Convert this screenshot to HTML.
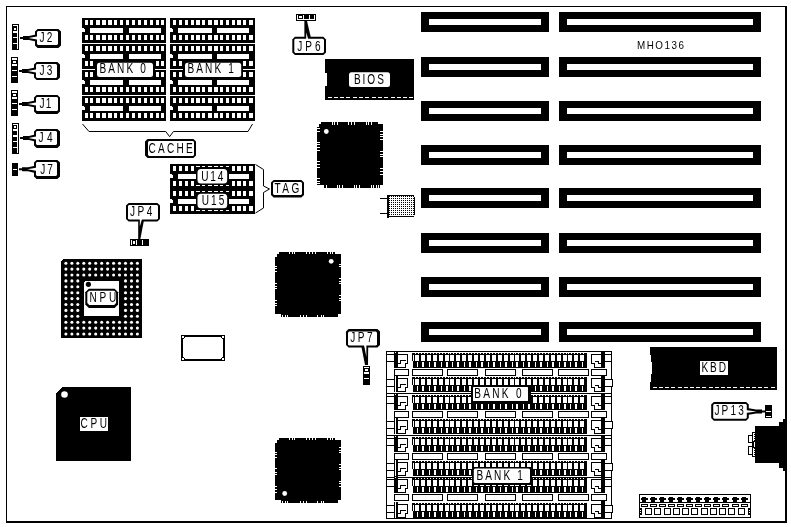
<!DOCTYPE html>
<html><head><meta charset="utf-8"><title>MHO136</title>
<style>html,body{margin:0;padding:0;background:#fff;}body{width:791px;height:527px;overflow:hidden;font-family:"Liberation Sans",sans-serif;}</style>
</head><body>
<svg width="791" height="527" viewBox="0 0 791 527" style="display:block">
<defs><pattern id="dots" x="0" y="0" width="2" height="2" patternUnits="userSpaceOnUse"><rect x="0" y="0" width="2" height="2" fill="#fff"/><rect x="1" y="0" width="1" height="1" fill="#000"/></pattern></defs>
<rect width="791" height="527" fill="#fff"/>
<g shape-rendering="crispEdges">
<rect x="6" y="6" width="781" height="1" fill="#000"/>
<rect x="6" y="6" width="1" height="517" fill="#000"/>
<rect x="785" y="6" width="2" height="517" fill="#000"/>
<rect x="6" y="521" width="781" height="2" fill="#000"/>
<rect x="12" y="24" width="7" height="26" fill="#000"/>
<rect x="17" y="25" width="1" height="24" fill="#fff"/>
<rect x="13" y="25" width="4" height="1" fill="#fff"/>
<rect x="13" y="31" width="4" height="2" fill="#fff"/>
<rect x="13" y="37" width="4" height="1" fill="#fff"/>
<rect x="13" y="43" width="4" height="1" fill="#fff"/>
<rect x="14" y="28" width="2" height="2" fill="#fff"/>
<rect x="11" y="57" width="7" height="26" fill="#000"/>
<rect x="12" y="58" width="5" height="2" fill="#fff"/>
<rect x="13" y="61" width="3" height="2" fill="#fff"/>
<rect x="12" y="64" width="5" height="2" fill="#fff"/>
<rect x="12" y="70" width="5" height="1" fill="#fff"/>
<rect x="12" y="76" width="5" height="1" fill="#fff"/>
<rect x="11" y="90" width="7" height="26" fill="#000"/>
<rect x="12" y="91" width="5" height="2" fill="#fff"/>
<rect x="13" y="94" width="3" height="2" fill="#fff"/>
<rect x="12" y="97" width="5" height="2" fill="#fff"/>
<rect x="12" y="103" width="5" height="1" fill="#fff"/>
<rect x="12" y="109" width="5" height="1" fill="#fff"/>
<rect x="12" y="123" width="7" height="31" fill="#000"/>
<rect x="17" y="124" width="1" height="29" fill="#fff"/>
<rect x="13" y="124" width="4" height="1" fill="#fff"/>
<rect x="13" y="129" width="4" height="2" fill="#fff"/>
<rect x="13" y="135" width="4" height="2" fill="#fff"/>
<rect x="13" y="141" width="4" height="1" fill="#fff"/>
<rect x="13" y="147" width="4" height="1" fill="#fff"/>
<rect x="14" y="126" width="2" height="2" fill="#fff"/>
<rect x="12" y="163" width="6" height="13" fill="#000"/>
<rect x="13" y="169" width="4" height="1" fill="#fff"/>
<rect x="82" y="18" width="84" height="25" fill="#000"/>
<rect x="85" y="20" width="3" height="5" fill="#fff"/>
<rect x="85" y="35" width="3" height="5" fill="#fff"/>
<rect x="90" y="20" width="3" height="5" fill="#fff"/>
<rect x="90" y="35" width="3" height="5" fill="#fff"/>
<rect x="96" y="20" width="4" height="5" fill="#fff"/>
<rect x="96" y="35" width="4" height="5" fill="#fff"/>
<rect x="102" y="20" width="4" height="5" fill="#fff"/>
<rect x="102" y="35" width="4" height="5" fill="#fff"/>
<rect x="108" y="20" width="4" height="5" fill="#fff"/>
<rect x="108" y="35" width="4" height="5" fill="#fff"/>
<rect x="114" y="20" width="3" height="5" fill="#fff"/>
<rect x="114" y="35" width="3" height="5" fill="#fff"/>
<rect x="120" y="20" width="3" height="5" fill="#fff"/>
<rect x="120" y="35" width="3" height="5" fill="#fff"/>
<rect x="126" y="20" width="3" height="5" fill="#fff"/>
<rect x="126" y="35" width="3" height="5" fill="#fff"/>
<rect x="132" y="20" width="3" height="5" fill="#fff"/>
<rect x="132" y="35" width="3" height="5" fill="#fff"/>
<rect x="138" y="20" width="3" height="5" fill="#fff"/>
<rect x="138" y="35" width="3" height="5" fill="#fff"/>
<rect x="144" y="20" width="3" height="5" fill="#fff"/>
<rect x="144" y="35" width="3" height="5" fill="#fff"/>
<rect x="150" y="20" width="3" height="5" fill="#fff"/>
<rect x="150" y="35" width="3" height="5" fill="#fff"/>
<rect x="156" y="20" width="3" height="5" fill="#fff"/>
<rect x="156" y="35" width="3" height="5" fill="#fff"/>
<rect x="161" y="20" width="3" height="5" fill="#fff"/>
<rect x="161" y="35" width="3" height="5" fill="#fff"/>
<rect x="90" y="28" width="33" height="5" fill="#fff"/>
<rect x="129" y="28" width="32" height="5" fill="#fff"/>
<rect x="82" y="28" width="3" height="4" fill="#fff"/>
<rect x="84" y="28" width="1" height="1" fill="#000"/>
<rect x="170" y="18" width="85" height="25" fill="#000"/>
<rect x="173" y="20" width="3" height="5" fill="#fff"/>
<rect x="173" y="35" width="3" height="5" fill="#fff"/>
<rect x="179" y="20" width="3" height="5" fill="#fff"/>
<rect x="179" y="35" width="3" height="5" fill="#fff"/>
<rect x="185" y="20" width="3" height="5" fill="#fff"/>
<rect x="185" y="35" width="3" height="5" fill="#fff"/>
<rect x="191" y="20" width="3" height="5" fill="#fff"/>
<rect x="191" y="35" width="3" height="5" fill="#fff"/>
<rect x="196" y="20" width="4" height="5" fill="#fff"/>
<rect x="196" y="35" width="4" height="5" fill="#fff"/>
<rect x="202" y="20" width="3" height="5" fill="#fff"/>
<rect x="202" y="35" width="3" height="5" fill="#fff"/>
<rect x="208" y="20" width="4" height="5" fill="#fff"/>
<rect x="208" y="35" width="4" height="5" fill="#fff"/>
<rect x="214" y="20" width="4" height="5" fill="#fff"/>
<rect x="214" y="35" width="4" height="5" fill="#fff"/>
<rect x="220" y="20" width="3" height="5" fill="#fff"/>
<rect x="220" y="35" width="3" height="5" fill="#fff"/>
<rect x="226" y="20" width="3" height="5" fill="#fff"/>
<rect x="226" y="35" width="3" height="5" fill="#fff"/>
<rect x="232" y="20" width="3" height="5" fill="#fff"/>
<rect x="232" y="35" width="3" height="5" fill="#fff"/>
<rect x="237" y="20" width="4" height="5" fill="#fff"/>
<rect x="237" y="35" width="4" height="5" fill="#fff"/>
<rect x="243" y="20" width="3" height="5" fill="#fff"/>
<rect x="243" y="35" width="3" height="5" fill="#fff"/>
<rect x="249" y="20" width="4" height="5" fill="#fff"/>
<rect x="249" y="35" width="4" height="5" fill="#fff"/>
<rect x="178" y="28" width="34" height="5" fill="#fff"/>
<rect x="217" y="28" width="32" height="5" fill="#fff"/>
<rect x="170" y="28" width="3" height="4" fill="#fff"/>
<rect x="172" y="28" width="1" height="1" fill="#000"/>
<rect x="82" y="44" width="84" height="25" fill="#000"/>
<rect x="85" y="46" width="3" height="5" fill="#fff"/>
<rect x="85" y="61" width="3" height="5" fill="#fff"/>
<rect x="90" y="46" width="3" height="5" fill="#fff"/>
<rect x="90" y="61" width="3" height="5" fill="#fff"/>
<rect x="96" y="46" width="4" height="5" fill="#fff"/>
<rect x="96" y="61" width="4" height="5" fill="#fff"/>
<rect x="102" y="46" width="4" height="5" fill="#fff"/>
<rect x="102" y="61" width="4" height="5" fill="#fff"/>
<rect x="108" y="46" width="4" height="5" fill="#fff"/>
<rect x="108" y="61" width="4" height="5" fill="#fff"/>
<rect x="114" y="46" width="3" height="5" fill="#fff"/>
<rect x="114" y="61" width="3" height="5" fill="#fff"/>
<rect x="120" y="46" width="3" height="5" fill="#fff"/>
<rect x="120" y="61" width="3" height="5" fill="#fff"/>
<rect x="126" y="46" width="3" height="5" fill="#fff"/>
<rect x="126" y="61" width="3" height="5" fill="#fff"/>
<rect x="132" y="46" width="3" height="5" fill="#fff"/>
<rect x="132" y="61" width="3" height="5" fill="#fff"/>
<rect x="138" y="46" width="3" height="5" fill="#fff"/>
<rect x="138" y="61" width="3" height="5" fill="#fff"/>
<rect x="144" y="46" width="3" height="5" fill="#fff"/>
<rect x="144" y="61" width="3" height="5" fill="#fff"/>
<rect x="150" y="46" width="3" height="5" fill="#fff"/>
<rect x="150" y="61" width="3" height="5" fill="#fff"/>
<rect x="156" y="46" width="3" height="5" fill="#fff"/>
<rect x="156" y="61" width="3" height="5" fill="#fff"/>
<rect x="161" y="46" width="3" height="5" fill="#fff"/>
<rect x="161" y="61" width="3" height="5" fill="#fff"/>
<rect x="90" y="54" width="33" height="5" fill="#fff"/>
<rect x="129" y="54" width="32" height="5" fill="#fff"/>
<rect x="82" y="54" width="3" height="4" fill="#fff"/>
<rect x="84" y="54" width="1" height="1" fill="#000"/>
<rect x="170" y="44" width="85" height="25" fill="#000"/>
<rect x="173" y="46" width="3" height="5" fill="#fff"/>
<rect x="173" y="61" width="3" height="5" fill="#fff"/>
<rect x="179" y="46" width="3" height="5" fill="#fff"/>
<rect x="179" y="61" width="3" height="5" fill="#fff"/>
<rect x="185" y="46" width="3" height="5" fill="#fff"/>
<rect x="185" y="61" width="3" height="5" fill="#fff"/>
<rect x="191" y="46" width="3" height="5" fill="#fff"/>
<rect x="191" y="61" width="3" height="5" fill="#fff"/>
<rect x="196" y="46" width="4" height="5" fill="#fff"/>
<rect x="196" y="61" width="4" height="5" fill="#fff"/>
<rect x="202" y="46" width="3" height="5" fill="#fff"/>
<rect x="202" y="61" width="3" height="5" fill="#fff"/>
<rect x="208" y="46" width="4" height="5" fill="#fff"/>
<rect x="208" y="61" width="4" height="5" fill="#fff"/>
<rect x="214" y="46" width="4" height="5" fill="#fff"/>
<rect x="214" y="61" width="4" height="5" fill="#fff"/>
<rect x="220" y="46" width="3" height="5" fill="#fff"/>
<rect x="220" y="61" width="3" height="5" fill="#fff"/>
<rect x="226" y="46" width="3" height="5" fill="#fff"/>
<rect x="226" y="61" width="3" height="5" fill="#fff"/>
<rect x="232" y="46" width="3" height="5" fill="#fff"/>
<rect x="232" y="61" width="3" height="5" fill="#fff"/>
<rect x="237" y="46" width="4" height="5" fill="#fff"/>
<rect x="237" y="61" width="4" height="5" fill="#fff"/>
<rect x="243" y="46" width="3" height="5" fill="#fff"/>
<rect x="243" y="61" width="3" height="5" fill="#fff"/>
<rect x="249" y="46" width="4" height="5" fill="#fff"/>
<rect x="249" y="61" width="4" height="5" fill="#fff"/>
<rect x="178" y="54" width="34" height="5" fill="#fff"/>
<rect x="217" y="54" width="32" height="5" fill="#fff"/>
<rect x="170" y="54" width="3" height="4" fill="#fff"/>
<rect x="172" y="54" width="1" height="1" fill="#000"/>
<rect x="82" y="70" width="84" height="25" fill="#000"/>
<rect x="85" y="72" width="3" height="5" fill="#fff"/>
<rect x="85" y="87" width="3" height="5" fill="#fff"/>
<rect x="90" y="72" width="3" height="5" fill="#fff"/>
<rect x="90" y="87" width="3" height="5" fill="#fff"/>
<rect x="96" y="72" width="4" height="5" fill="#fff"/>
<rect x="96" y="87" width="4" height="5" fill="#fff"/>
<rect x="102" y="72" width="4" height="5" fill="#fff"/>
<rect x="102" y="87" width="4" height="5" fill="#fff"/>
<rect x="108" y="72" width="4" height="5" fill="#fff"/>
<rect x="108" y="87" width="4" height="5" fill="#fff"/>
<rect x="114" y="72" width="3" height="5" fill="#fff"/>
<rect x="114" y="87" width="3" height="5" fill="#fff"/>
<rect x="120" y="72" width="3" height="5" fill="#fff"/>
<rect x="120" y="87" width="3" height="5" fill="#fff"/>
<rect x="126" y="72" width="3" height="5" fill="#fff"/>
<rect x="126" y="87" width="3" height="5" fill="#fff"/>
<rect x="132" y="72" width="3" height="5" fill="#fff"/>
<rect x="132" y="87" width="3" height="5" fill="#fff"/>
<rect x="138" y="72" width="3" height="5" fill="#fff"/>
<rect x="138" y="87" width="3" height="5" fill="#fff"/>
<rect x="144" y="72" width="3" height="5" fill="#fff"/>
<rect x="144" y="87" width="3" height="5" fill="#fff"/>
<rect x="150" y="72" width="3" height="5" fill="#fff"/>
<rect x="150" y="87" width="3" height="5" fill="#fff"/>
<rect x="156" y="72" width="3" height="5" fill="#fff"/>
<rect x="156" y="87" width="3" height="5" fill="#fff"/>
<rect x="161" y="72" width="3" height="5" fill="#fff"/>
<rect x="161" y="87" width="3" height="5" fill="#fff"/>
<rect x="90" y="80" width="33" height="5" fill="#fff"/>
<rect x="129" y="80" width="32" height="5" fill="#fff"/>
<rect x="82" y="80" width="3" height="4" fill="#fff"/>
<rect x="84" y="80" width="1" height="1" fill="#000"/>
<rect x="170" y="70" width="85" height="25" fill="#000"/>
<rect x="173" y="72" width="3" height="5" fill="#fff"/>
<rect x="173" y="87" width="3" height="5" fill="#fff"/>
<rect x="179" y="72" width="3" height="5" fill="#fff"/>
<rect x="179" y="87" width="3" height="5" fill="#fff"/>
<rect x="185" y="72" width="3" height="5" fill="#fff"/>
<rect x="185" y="87" width="3" height="5" fill="#fff"/>
<rect x="191" y="72" width="3" height="5" fill="#fff"/>
<rect x="191" y="87" width="3" height="5" fill="#fff"/>
<rect x="196" y="72" width="4" height="5" fill="#fff"/>
<rect x="196" y="87" width="4" height="5" fill="#fff"/>
<rect x="202" y="72" width="3" height="5" fill="#fff"/>
<rect x="202" y="87" width="3" height="5" fill="#fff"/>
<rect x="208" y="72" width="4" height="5" fill="#fff"/>
<rect x="208" y="87" width="4" height="5" fill="#fff"/>
<rect x="214" y="72" width="4" height="5" fill="#fff"/>
<rect x="214" y="87" width="4" height="5" fill="#fff"/>
<rect x="220" y="72" width="3" height="5" fill="#fff"/>
<rect x="220" y="87" width="3" height="5" fill="#fff"/>
<rect x="226" y="72" width="3" height="5" fill="#fff"/>
<rect x="226" y="87" width="3" height="5" fill="#fff"/>
<rect x="232" y="72" width="3" height="5" fill="#fff"/>
<rect x="232" y="87" width="3" height="5" fill="#fff"/>
<rect x="237" y="72" width="4" height="5" fill="#fff"/>
<rect x="237" y="87" width="4" height="5" fill="#fff"/>
<rect x="243" y="72" width="3" height="5" fill="#fff"/>
<rect x="243" y="87" width="3" height="5" fill="#fff"/>
<rect x="249" y="72" width="4" height="5" fill="#fff"/>
<rect x="249" y="87" width="4" height="5" fill="#fff"/>
<rect x="178" y="80" width="34" height="5" fill="#fff"/>
<rect x="217" y="80" width="32" height="5" fill="#fff"/>
<rect x="170" y="80" width="3" height="4" fill="#fff"/>
<rect x="172" y="80" width="1" height="1" fill="#000"/>
<rect x="82" y="96" width="84" height="25" fill="#000"/>
<rect x="85" y="98" width="3" height="5" fill="#fff"/>
<rect x="85" y="113" width="3" height="5" fill="#fff"/>
<rect x="90" y="98" width="3" height="5" fill="#fff"/>
<rect x="90" y="113" width="3" height="5" fill="#fff"/>
<rect x="96" y="98" width="4" height="5" fill="#fff"/>
<rect x="96" y="113" width="4" height="5" fill="#fff"/>
<rect x="102" y="98" width="4" height="5" fill="#fff"/>
<rect x="102" y="113" width="4" height="5" fill="#fff"/>
<rect x="108" y="98" width="4" height="5" fill="#fff"/>
<rect x="108" y="113" width="4" height="5" fill="#fff"/>
<rect x="114" y="98" width="3" height="5" fill="#fff"/>
<rect x="114" y="113" width="3" height="5" fill="#fff"/>
<rect x="120" y="98" width="3" height="5" fill="#fff"/>
<rect x="120" y="113" width="3" height="5" fill="#fff"/>
<rect x="126" y="98" width="3" height="5" fill="#fff"/>
<rect x="126" y="113" width="3" height="5" fill="#fff"/>
<rect x="132" y="98" width="3" height="5" fill="#fff"/>
<rect x="132" y="113" width="3" height="5" fill="#fff"/>
<rect x="138" y="98" width="3" height="5" fill="#fff"/>
<rect x="138" y="113" width="3" height="5" fill="#fff"/>
<rect x="144" y="98" width="3" height="5" fill="#fff"/>
<rect x="144" y="113" width="3" height="5" fill="#fff"/>
<rect x="150" y="98" width="3" height="5" fill="#fff"/>
<rect x="150" y="113" width="3" height="5" fill="#fff"/>
<rect x="156" y="98" width="3" height="5" fill="#fff"/>
<rect x="156" y="113" width="3" height="5" fill="#fff"/>
<rect x="161" y="98" width="3" height="5" fill="#fff"/>
<rect x="161" y="113" width="3" height="5" fill="#fff"/>
<rect x="90" y="106" width="33" height="5" fill="#fff"/>
<rect x="129" y="106" width="32" height="5" fill="#fff"/>
<rect x="82" y="106" width="3" height="4" fill="#fff"/>
<rect x="84" y="106" width="1" height="1" fill="#000"/>
<rect x="170" y="96" width="85" height="25" fill="#000"/>
<rect x="173" y="98" width="3" height="5" fill="#fff"/>
<rect x="173" y="113" width="3" height="5" fill="#fff"/>
<rect x="179" y="98" width="3" height="5" fill="#fff"/>
<rect x="179" y="113" width="3" height="5" fill="#fff"/>
<rect x="185" y="98" width="3" height="5" fill="#fff"/>
<rect x="185" y="113" width="3" height="5" fill="#fff"/>
<rect x="191" y="98" width="3" height="5" fill="#fff"/>
<rect x="191" y="113" width="3" height="5" fill="#fff"/>
<rect x="196" y="98" width="4" height="5" fill="#fff"/>
<rect x="196" y="113" width="4" height="5" fill="#fff"/>
<rect x="202" y="98" width="3" height="5" fill="#fff"/>
<rect x="202" y="113" width="3" height="5" fill="#fff"/>
<rect x="208" y="98" width="4" height="5" fill="#fff"/>
<rect x="208" y="113" width="4" height="5" fill="#fff"/>
<rect x="214" y="98" width="4" height="5" fill="#fff"/>
<rect x="214" y="113" width="4" height="5" fill="#fff"/>
<rect x="220" y="98" width="3" height="5" fill="#fff"/>
<rect x="220" y="113" width="3" height="5" fill="#fff"/>
<rect x="226" y="98" width="3" height="5" fill="#fff"/>
<rect x="226" y="113" width="3" height="5" fill="#fff"/>
<rect x="232" y="98" width="3" height="5" fill="#fff"/>
<rect x="232" y="113" width="3" height="5" fill="#fff"/>
<rect x="237" y="98" width="4" height="5" fill="#fff"/>
<rect x="237" y="113" width="4" height="5" fill="#fff"/>
<rect x="243" y="98" width="3" height="5" fill="#fff"/>
<rect x="243" y="113" width="3" height="5" fill="#fff"/>
<rect x="249" y="98" width="4" height="5" fill="#fff"/>
<rect x="249" y="113" width="4" height="5" fill="#fff"/>
<rect x="178" y="106" width="34" height="5" fill="#fff"/>
<rect x="217" y="106" width="32" height="5" fill="#fff"/>
<rect x="170" y="106" width="3" height="4" fill="#fff"/>
<rect x="172" y="106" width="1" height="1" fill="#000"/>
<rect x="95" y="61" width="60" height="18" fill="#000"/>
<rect x="182.5" y="61" width="60.7" height="18" fill="#000"/>
<rect x="170" y="164" width="85" height="25" fill="#000"/>
<rect x="173" y="166" width="3" height="5" fill="#fff"/>
<rect x="173" y="181" width="3" height="5" fill="#fff"/>
<rect x="179" y="166" width="3" height="5" fill="#fff"/>
<rect x="179" y="181" width="3" height="5" fill="#fff"/>
<rect x="185" y="166" width="3" height="5" fill="#fff"/>
<rect x="185" y="181" width="3" height="5" fill="#fff"/>
<rect x="191" y="166" width="3" height="5" fill="#fff"/>
<rect x="191" y="181" width="3" height="5" fill="#fff"/>
<rect x="196" y="166" width="4" height="5" fill="#fff"/>
<rect x="196" y="181" width="4" height="5" fill="#fff"/>
<rect x="202" y="166" width="3" height="5" fill="#fff"/>
<rect x="202" y="181" width="3" height="5" fill="#fff"/>
<rect x="208" y="166" width="4" height="5" fill="#fff"/>
<rect x="208" y="181" width="4" height="5" fill="#fff"/>
<rect x="214" y="166" width="4" height="5" fill="#fff"/>
<rect x="214" y="181" width="4" height="5" fill="#fff"/>
<rect x="220" y="166" width="3" height="5" fill="#fff"/>
<rect x="220" y="181" width="3" height="5" fill="#fff"/>
<rect x="226" y="166" width="3" height="5" fill="#fff"/>
<rect x="226" y="181" width="3" height="5" fill="#fff"/>
<rect x="232" y="166" width="3" height="5" fill="#fff"/>
<rect x="232" y="181" width="3" height="5" fill="#fff"/>
<rect x="237" y="166" width="4" height="5" fill="#fff"/>
<rect x="237" y="181" width="4" height="5" fill="#fff"/>
<rect x="243" y="166" width="3" height="5" fill="#fff"/>
<rect x="243" y="181" width="3" height="5" fill="#fff"/>
<rect x="249" y="166" width="4" height="5" fill="#fff"/>
<rect x="249" y="181" width="4" height="5" fill="#fff"/>
<rect x="178" y="174" width="71" height="5" fill="#fff"/>
<rect x="170" y="174" width="3" height="4" fill="#fff"/>
<rect x="172" y="174" width="1" height="1" fill="#000"/>
<rect x="170" y="189" width="85" height="25" fill="#000"/>
<rect x="173" y="191" width="3" height="5" fill="#fff"/>
<rect x="173" y="206" width="3" height="5" fill="#fff"/>
<rect x="179" y="191" width="3" height="5" fill="#fff"/>
<rect x="179" y="206" width="3" height="5" fill="#fff"/>
<rect x="185" y="191" width="3" height="5" fill="#fff"/>
<rect x="185" y="206" width="3" height="5" fill="#fff"/>
<rect x="191" y="191" width="3" height="5" fill="#fff"/>
<rect x="191" y="206" width="3" height="5" fill="#fff"/>
<rect x="196" y="191" width="4" height="5" fill="#fff"/>
<rect x="196" y="206" width="4" height="5" fill="#fff"/>
<rect x="202" y="191" width="3" height="5" fill="#fff"/>
<rect x="202" y="206" width="3" height="5" fill="#fff"/>
<rect x="208" y="191" width="4" height="5" fill="#fff"/>
<rect x="208" y="206" width="4" height="5" fill="#fff"/>
<rect x="214" y="191" width="4" height="5" fill="#fff"/>
<rect x="214" y="206" width="4" height="5" fill="#fff"/>
<rect x="220" y="191" width="3" height="5" fill="#fff"/>
<rect x="220" y="206" width="3" height="5" fill="#fff"/>
<rect x="226" y="191" width="3" height="5" fill="#fff"/>
<rect x="226" y="206" width="3" height="5" fill="#fff"/>
<rect x="232" y="191" width="3" height="5" fill="#fff"/>
<rect x="232" y="206" width="3" height="5" fill="#fff"/>
<rect x="237" y="191" width="4" height="5" fill="#fff"/>
<rect x="237" y="206" width="4" height="5" fill="#fff"/>
<rect x="243" y="191" width="3" height="5" fill="#fff"/>
<rect x="243" y="206" width="3" height="5" fill="#fff"/>
<rect x="249" y="191" width="4" height="5" fill="#fff"/>
<rect x="249" y="206" width="4" height="5" fill="#fff"/>
<rect x="178" y="199" width="71" height="5" fill="#fff"/>
<rect x="170" y="199" width="3" height="4" fill="#fff"/>
<rect x="172" y="199" width="1" height="1" fill="#000"/>
<rect x="196" y="167" width="33" height="18" fill="#000"/>
<rect x="196" y="192" width="33" height="18" fill="#000"/>
<rect x="130" y="239" width="19" height="7" fill="#000"/>
<rect x="131" y="240" width="1" height="5" fill="#fff"/>
<rect x="133" y="241" width="2" height="3" fill="#fff"/>
<rect x="136" y="240" width="1" height="5" fill="#fff"/>
<rect x="142" y="240" width="1" height="5" fill="#fff"/>
<rect x="296" y="14" width="20" height="7" fill="#000"/>
<rect x="297" y="15" width="1" height="5" fill="#fff"/>
<rect x="297" y="19" width="18" height="1" fill="#fff"/>
<rect x="303" y="15" width="1" height="4" fill="#fff"/>
<rect x="309" y="15" width="1" height="4" fill="#fff"/>
<rect x="314" y="15" width="1" height="4" fill="#fff"/>
<rect x="299" y="16" width="3" height="2" fill="#fff"/>
<rect x="325" y="59" width="89" height="41" fill="#000"/>
<rect x="325" y="73" width="2" height="13" fill="#fff"/>
<rect x="328" y="97" width="4" height="1" fill="#fff"/>
<rect x="334" y="97" width="4" height="1" fill="#fff"/>
<rect x="340" y="97" width="4" height="1" fill="#fff"/>
<rect x="346" y="97" width="4" height="1" fill="#fff"/>
<rect x="353" y="97" width="4" height="1" fill="#fff"/>
<rect x="359" y="97" width="4" height="1" fill="#fff"/>
<rect x="365" y="97" width="4" height="1" fill="#fff"/>
<rect x="372" y="97" width="4" height="1" fill="#fff"/>
<rect x="378" y="97" width="4" height="1" fill="#fff"/>
<rect x="384" y="97" width="4" height="1" fill="#fff"/>
<rect x="391" y="97" width="4" height="1" fill="#fff"/>
<rect x="397" y="97" width="4" height="1" fill="#fff"/>
<rect x="403" y="97" width="4" height="1" fill="#fff"/>
<rect x="409" y="97" width="4" height="1" fill="#fff"/>
<path d="M321,122 L378,122 L378,124 L383,124 L383,185 L380,185 L380,188 L323,188 L323,185 L317,185 L317,127 L319,127 L319,124 L321,124 Z" fill="#000"/>
<rect x="332" y="122" width="1" height="3" fill="#fff"/>
<rect x="334" y="122" width="1" height="3" fill="#fff"/>
<rect x="337" y="122" width="1" height="3" fill="#fff"/>
<rect x="348" y="122" width="1" height="3" fill="#fff"/>
<rect x="351" y="122" width="1" height="3" fill="#fff"/>
<rect x="354" y="122" width="1" height="3" fill="#fff"/>
<rect x="366" y="122" width="1" height="3" fill="#fff"/>
<rect x="368" y="122" width="1" height="3" fill="#fff"/>
<rect x="371" y="122" width="1" height="3" fill="#fff"/>
<rect x="323" y="185" width="1" height="3" fill="#fff"/>
<rect x="326" y="185" width="1" height="3" fill="#fff"/>
<rect x="337" y="185" width="1" height="3" fill="#fff"/>
<rect x="339" y="185" width="1" height="3" fill="#fff"/>
<rect x="342" y="185" width="1" height="3" fill="#fff"/>
<rect x="354" y="185" width="1" height="3" fill="#fff"/>
<rect x="356" y="185" width="1" height="3" fill="#fff"/>
<rect x="359" y="185" width="1" height="3" fill="#fff"/>
<rect x="371" y="185" width="1" height="3" fill="#fff"/>
<rect x="373" y="185" width="1" height="3" fill="#fff"/>
<rect x="376" y="185" width="1" height="3" fill="#fff"/>
<rect x="378" y="185" width="1" height="3" fill="#fff"/>
<rect x="317" y="128" width="3" height="1" fill="#fff"/>
<rect x="317" y="131" width="3" height="1" fill="#fff"/>
<rect x="317" y="142" width="3" height="1" fill="#fff"/>
<rect x="317" y="144" width="3" height="1" fill="#fff"/>
<rect x="317" y="147" width="3" height="1" fill="#fff"/>
<rect x="317" y="150" width="3" height="1" fill="#fff"/>
<rect x="317" y="161" width="3" height="1" fill="#fff"/>
<rect x="317" y="164" width="3" height="1" fill="#fff"/>
<rect x="317" y="167" width="3" height="1" fill="#fff"/>
<rect x="317" y="178" width="3" height="1" fill="#fff"/>
<rect x="317" y="181" width="3" height="1" fill="#fff"/>
<rect x="317" y="183" width="3" height="1" fill="#fff"/>
<rect x="380" y="131" width="3" height="1" fill="#fff"/>
<rect x="380" y="134" width="3" height="1" fill="#fff"/>
<rect x="380" y="136" width="3" height="1" fill="#fff"/>
<rect x="380" y="139" width="3" height="1" fill="#fff"/>
<rect x="380" y="151" width="3" height="1" fill="#fff"/>
<rect x="380" y="154" width="3" height="1" fill="#fff"/>
<rect x="380" y="156" width="3" height="1" fill="#fff"/>
<rect x="380" y="168" width="3" height="1" fill="#fff"/>
<rect x="380" y="171" width="3" height="1" fill="#fff"/>
<rect x="380" y="174" width="3" height="1" fill="#fff"/>
<path d="M279,252 L336,252 L336,254 L341,254 L341,314 L338,314 L338,317 L281,317 L281,314 L275,314 L275,257 L277,257 L277,254 L279,254 Z" fill="#000"/>
<rect x="289" y="252" width="1" height="2" fill="#fff"/>
<rect x="292" y="252" width="1" height="2" fill="#fff"/>
<rect x="294" y="252" width="1" height="2" fill="#fff"/>
<rect x="306" y="252" width="1" height="2" fill="#fff"/>
<rect x="309" y="252" width="1" height="2" fill="#fff"/>
<rect x="312" y="252" width="1" height="2" fill="#fff"/>
<rect x="315" y="252" width="1" height="2" fill="#fff"/>
<rect x="327" y="252" width="1" height="2" fill="#fff"/>
<rect x="330" y="252" width="1" height="2" fill="#fff"/>
<rect x="332" y="252" width="1" height="2" fill="#fff"/>
<rect x="335" y="252" width="1" height="2" fill="#fff"/>
<rect x="282" y="315" width="1" height="2" fill="#fff"/>
<rect x="285" y="315" width="1" height="2" fill="#fff"/>
<rect x="287" y="315" width="1" height="2" fill="#fff"/>
<rect x="300" y="315" width="1" height="2" fill="#fff"/>
<rect x="303" y="315" width="1" height="2" fill="#fff"/>
<rect x="306" y="315" width="1" height="2" fill="#fff"/>
<rect x="317" y="315" width="1" height="2" fill="#fff"/>
<rect x="321" y="315" width="1" height="2" fill="#fff"/>
<rect x="323" y="315" width="1" height="2" fill="#fff"/>
<rect x="275" y="266" width="2" height="1" fill="#fff"/>
<rect x="275" y="268" width="2" height="1" fill="#fff"/>
<rect x="275" y="271" width="2" height="1" fill="#fff"/>
<rect x="275" y="283" width="2" height="1" fill="#fff"/>
<rect x="275" y="286" width="2" height="1" fill="#fff"/>
<rect x="275" y="288" width="2" height="1" fill="#fff"/>
<rect x="275" y="300" width="2" height="1" fill="#fff"/>
<rect x="275" y="303" width="2" height="1" fill="#fff"/>
<rect x="275" y="305" width="2" height="1" fill="#fff"/>
<rect x="339" y="264" width="2" height="1" fill="#fff"/>
<rect x="339" y="266" width="2" height="1" fill="#fff"/>
<rect x="339" y="278" width="2" height="1" fill="#fff"/>
<rect x="339" y="281" width="2" height="1" fill="#fff"/>
<rect x="339" y="283" width="2" height="1" fill="#fff"/>
<rect x="339" y="295" width="2" height="1" fill="#fff"/>
<rect x="339" y="298" width="2" height="1" fill="#fff"/>
<rect x="339" y="300" width="2" height="1" fill="#fff"/>
<path d="M279,438 L336,438 L336,440 L341,440 L341,500 L338,500 L338,503 L281,503 L281,500 L275,500 L275,443 L277,443 L277,440 L279,440 Z" fill="#000"/>
<rect x="289" y="438" width="1" height="2" fill="#fff"/>
<rect x="292" y="438" width="1" height="2" fill="#fff"/>
<rect x="294" y="438" width="1" height="2" fill="#fff"/>
<rect x="306" y="438" width="1" height="2" fill="#fff"/>
<rect x="309" y="438" width="1" height="2" fill="#fff"/>
<rect x="312" y="438" width="1" height="2" fill="#fff"/>
<rect x="315" y="438" width="1" height="2" fill="#fff"/>
<rect x="327" y="438" width="1" height="2" fill="#fff"/>
<rect x="330" y="438" width="1" height="2" fill="#fff"/>
<rect x="332" y="438" width="1" height="2" fill="#fff"/>
<rect x="335" y="438" width="1" height="2" fill="#fff"/>
<rect x="282" y="501" width="1" height="2" fill="#fff"/>
<rect x="285" y="501" width="1" height="2" fill="#fff"/>
<rect x="287" y="501" width="1" height="2" fill="#fff"/>
<rect x="300" y="501" width="1" height="2" fill="#fff"/>
<rect x="303" y="501" width="1" height="2" fill="#fff"/>
<rect x="306" y="501" width="1" height="2" fill="#fff"/>
<rect x="317" y="501" width="1" height="2" fill="#fff"/>
<rect x="321" y="501" width="1" height="2" fill="#fff"/>
<rect x="323" y="501" width="1" height="2" fill="#fff"/>
<rect x="275" y="452" width="2" height="1" fill="#fff"/>
<rect x="275" y="454" width="2" height="1" fill="#fff"/>
<rect x="275" y="457" width="2" height="1" fill="#fff"/>
<rect x="275" y="468" width="2" height="1" fill="#fff"/>
<rect x="275" y="472" width="2" height="1" fill="#fff"/>
<rect x="275" y="474" width="2" height="1" fill="#fff"/>
<rect x="275" y="486" width="2" height="1" fill="#fff"/>
<rect x="275" y="489" width="2" height="1" fill="#fff"/>
<rect x="275" y="492" width="2" height="1" fill="#fff"/>
<rect x="339" y="447" width="2" height="1" fill="#fff"/>
<rect x="339" y="450" width="2" height="1" fill="#fff"/>
<rect x="339" y="452" width="2" height="1" fill="#fff"/>
<rect x="339" y="464" width="2" height="1" fill="#fff"/>
<rect x="339" y="467" width="2" height="1" fill="#fff"/>
<rect x="339" y="469" width="2" height="1" fill="#fff"/>
<rect x="339" y="481" width="2" height="1" fill="#fff"/>
<rect x="339" y="483" width="2" height="1" fill="#fff"/>
<rect x="339" y="486" width="2" height="1" fill="#fff"/>
<rect x="380" y="198" width="8" height="1" fill="#000"/>
<rect x="380" y="213" width="8" height="1" fill="#000"/>
<rect x="387" y="195" width="2" height="23" fill="#000"/>
<rect x="387" y="195" width="27" height="1" fill="#000"/>
<rect x="387" y="216" width="27" height="1" fill="#000"/>
<rect x="414" y="197" width="1" height="18" fill="#000"/>
<rect x="413" y="196" width="1" height="1" fill="#000"/>
<rect x="413" y="215" width="1" height="1" fill="#000"/>
<rect x="389" y="196" width="25" height="20" fill="url(#dots)"/>
<rect x="421" y="12" width="128" height="20" fill="#000"/>
<rect x="429" y="19" width="112" height="6" fill="#fff"/>
<rect x="559" y="12" width="202" height="20" fill="#000"/>
<rect x="567" y="19" width="186" height="6" fill="#fff"/>
<rect x="421" y="57" width="128" height="20" fill="#000"/>
<rect x="429" y="64" width="112" height="6" fill="#fff"/>
<rect x="559" y="57" width="202" height="20" fill="#000"/>
<rect x="567" y="64" width="186" height="6" fill="#fff"/>
<rect x="421" y="101" width="128" height="20" fill="#000"/>
<rect x="429" y="108" width="112" height="6" fill="#fff"/>
<rect x="559" y="101" width="202" height="20" fill="#000"/>
<rect x="567" y="108" width="186" height="6" fill="#fff"/>
<rect x="421" y="145" width="128" height="20" fill="#000"/>
<rect x="429" y="152" width="112" height="6" fill="#fff"/>
<rect x="559" y="145" width="202" height="20" fill="#000"/>
<rect x="567" y="152" width="186" height="6" fill="#fff"/>
<rect x="421" y="188" width="128" height="20" fill="#000"/>
<rect x="429" y="195" width="112" height="6" fill="#fff"/>
<rect x="559" y="188" width="202" height="20" fill="#000"/>
<rect x="567" y="195" width="186" height="6" fill="#fff"/>
<rect x="421" y="233" width="128" height="20" fill="#000"/>
<rect x="429" y="240" width="112" height="6" fill="#fff"/>
<rect x="559" y="233" width="202" height="20" fill="#000"/>
<rect x="567" y="240" width="186" height="6" fill="#fff"/>
<rect x="421" y="277" width="128" height="20" fill="#000"/>
<rect x="429" y="284" width="112" height="6" fill="#fff"/>
<rect x="559" y="277" width="202" height="20" fill="#000"/>
<rect x="567" y="284" width="186" height="6" fill="#fff"/>
<rect x="421" y="322" width="128" height="20" fill="#000"/>
<rect x="429" y="329" width="112" height="6" fill="#fff"/>
<rect x="559" y="322" width="202" height="20" fill="#000"/>
<rect x="567" y="329" width="186" height="6" fill="#fff"/>
<path d="M63,259 L142,259 L142,338 L61,338 L61,261 Z" fill="#000"/>
<path d="M85,281 L119,281 L119,316 L84,316 L84,282 Z" fill="#fff"/>
<rect x="181" y="335" width="44" height="26" fill="#000"/>
<rect x="183" y="337" width="40" height="22" fill="#fff"/>
<rect x="182" y="336" width="1" height="1" fill="#fff"/>
<rect x="183" y="336" width="1" height="1" fill="#fff"/>
<rect x="182" y="337" width="1" height="1" fill="#fff"/>
<rect x="184" y="337" width="1" height="1" fill="#000"/>
<rect x="183" y="338" width="1" height="1" fill="#000"/>
<rect x="223" y="336" width="1" height="1" fill="#fff"/>
<rect x="222" y="336" width="1" height="1" fill="#fff"/>
<rect x="223" y="337" width="1" height="1" fill="#fff"/>
<rect x="221" y="337" width="1" height="1" fill="#000"/>
<rect x="222" y="338" width="1" height="1" fill="#000"/>
<rect x="182" y="359" width="1" height="1" fill="#fff"/>
<rect x="183" y="359" width="1" height="1" fill="#fff"/>
<rect x="182" y="358" width="1" height="1" fill="#fff"/>
<rect x="184" y="358" width="1" height="1" fill="#000"/>
<rect x="183" y="357" width="1" height="1" fill="#000"/>
<rect x="223" y="359" width="1" height="1" fill="#fff"/>
<rect x="222" y="359" width="1" height="1" fill="#fff"/>
<rect x="223" y="358" width="1" height="1" fill="#fff"/>
<rect x="221" y="358" width="1" height="1" fill="#000"/>
<rect x="222" y="357" width="1" height="1" fill="#000"/>
<path d="M62,387 L131,387 L131,461 L56,461 L56,393 Z" fill="#000"/>
<rect x="80" y="417" width="28" height="14" fill="#fff"/>
<rect x="363" y="366" width="7" height="19" fill="#000"/>
<rect x="364" y="367" width="5" height="1" fill="#fff"/>
<rect x="365" y="369" width="3" height="2" fill="#fff"/>
<rect x="364" y="372" width="5" height="2" fill="#fff"/>
<rect x="364" y="378" width="5" height="1" fill="#fff"/>
<rect x="386" y="351" width="226" height="1" fill="#000"/>
<rect x="386" y="351" width="1" height="168" fill="#000"/>
<rect x="611" y="351" width="1" height="168" fill="#000"/>
<rect x="386" y="518" width="226" height="1" fill="#000"/>
<rect x="412" y="353" width="175" height="8" fill="#000"/>
<rect x="413" y="361" width="174" height="7" fill="#000"/>
<rect x="413" y="355" width="1" height="6" fill="#fff"/>
<rect x="415" y="355" width="4" height="6" fill="#fff"/>
<rect x="417" y="362" width="1" height="5" fill="#fff"/>
<rect x="415" y="353" width="1" height="1" fill="#fff"/>
<rect x="418" y="353" width="1" height="1" fill="#fff"/>
<rect x="421" y="355" width="4" height="6" fill="#fff"/>
<rect x="422" y="362" width="2" height="5" fill="#fff"/>
<rect x="421" y="353" width="1" height="1" fill="#fff"/>
<rect x="424" y="353" width="1" height="1" fill="#fff"/>
<rect x="427" y="355" width="4" height="6" fill="#fff"/>
<rect x="429" y="362" width="1" height="5" fill="#fff"/>
<rect x="427" y="353" width="1" height="1" fill="#fff"/>
<rect x="430" y="353" width="1" height="1" fill="#fff"/>
<rect x="433" y="355" width="4" height="6" fill="#fff"/>
<rect x="434" y="362" width="2" height="5" fill="#fff"/>
<rect x="433" y="353" width="1" height="1" fill="#fff"/>
<rect x="436" y="353" width="1" height="1" fill="#fff"/>
<rect x="439" y="355" width="4" height="6" fill="#fff"/>
<rect x="441" y="362" width="1" height="5" fill="#fff"/>
<rect x="439" y="353" width="1" height="1" fill="#fff"/>
<rect x="442" y="353" width="1" height="1" fill="#fff"/>
<rect x="445" y="355" width="4" height="6" fill="#fff"/>
<rect x="446" y="362" width="2" height="5" fill="#fff"/>
<rect x="445" y="353" width="1" height="1" fill="#fff"/>
<rect x="448" y="353" width="1" height="1" fill="#fff"/>
<rect x="450" y="355" width="4" height="6" fill="#fff"/>
<rect x="452" y="362" width="1" height="5" fill="#fff"/>
<rect x="450" y="353" width="1" height="1" fill="#fff"/>
<rect x="453" y="353" width="1" height="1" fill="#fff"/>
<rect x="456" y="355" width="4" height="6" fill="#fff"/>
<rect x="457" y="362" width="2" height="5" fill="#fff"/>
<rect x="456" y="353" width="1" height="1" fill="#fff"/>
<rect x="459" y="353" width="1" height="1" fill="#fff"/>
<rect x="462" y="355" width="4" height="6" fill="#fff"/>
<rect x="464" y="362" width="1" height="5" fill="#fff"/>
<rect x="462" y="353" width="1" height="1" fill="#fff"/>
<rect x="465" y="353" width="1" height="1" fill="#fff"/>
<rect x="468" y="355" width="4" height="6" fill="#fff"/>
<rect x="469" y="362" width="2" height="5" fill="#fff"/>
<rect x="468" y="353" width="1" height="1" fill="#fff"/>
<rect x="471" y="353" width="1" height="1" fill="#fff"/>
<rect x="474" y="355" width="4" height="6" fill="#fff"/>
<rect x="476" y="362" width="1" height="5" fill="#fff"/>
<rect x="474" y="353" width="1" height="1" fill="#fff"/>
<rect x="477" y="353" width="1" height="1" fill="#fff"/>
<rect x="480" y="355" width="4" height="6" fill="#fff"/>
<rect x="481" y="362" width="2" height="5" fill="#fff"/>
<rect x="480" y="353" width="1" height="1" fill="#fff"/>
<rect x="483" y="353" width="1" height="1" fill="#fff"/>
<rect x="486" y="355" width="4" height="6" fill="#fff"/>
<rect x="488" y="362" width="1" height="5" fill="#fff"/>
<rect x="486" y="353" width="1" height="1" fill="#fff"/>
<rect x="489" y="353" width="1" height="1" fill="#fff"/>
<rect x="492" y="355" width="4" height="6" fill="#fff"/>
<rect x="493" y="362" width="2" height="5" fill="#fff"/>
<rect x="492" y="353" width="1" height="1" fill="#fff"/>
<rect x="495" y="353" width="1" height="1" fill="#fff"/>
<rect x="498" y="355" width="4" height="6" fill="#fff"/>
<rect x="500" y="362" width="1" height="5" fill="#fff"/>
<rect x="498" y="353" width="1" height="1" fill="#fff"/>
<rect x="501" y="353" width="1" height="1" fill="#fff"/>
<rect x="504" y="355" width="4" height="6" fill="#fff"/>
<rect x="505" y="362" width="2" height="5" fill="#fff"/>
<rect x="504" y="353" width="1" height="1" fill="#fff"/>
<rect x="507" y="353" width="1" height="1" fill="#fff"/>
<rect x="510" y="355" width="4" height="6" fill="#fff"/>
<rect x="512" y="362" width="1" height="5" fill="#fff"/>
<rect x="510" y="353" width="1" height="1" fill="#fff"/>
<rect x="513" y="353" width="1" height="1" fill="#fff"/>
<rect x="515" y="355" width="4" height="6" fill="#fff"/>
<rect x="516" y="362" width="2" height="5" fill="#fff"/>
<rect x="515" y="353" width="1" height="1" fill="#fff"/>
<rect x="518" y="353" width="1" height="1" fill="#fff"/>
<rect x="521" y="355" width="4" height="6" fill="#fff"/>
<rect x="523" y="362" width="1" height="5" fill="#fff"/>
<rect x="521" y="353" width="1" height="1" fill="#fff"/>
<rect x="524" y="353" width="1" height="1" fill="#fff"/>
<rect x="527" y="355" width="4" height="6" fill="#fff"/>
<rect x="528" y="362" width="2" height="5" fill="#fff"/>
<rect x="527" y="353" width="1" height="1" fill="#fff"/>
<rect x="530" y="353" width="1" height="1" fill="#fff"/>
<rect x="533" y="355" width="4" height="6" fill="#fff"/>
<rect x="535" y="362" width="1" height="5" fill="#fff"/>
<rect x="533" y="353" width="1" height="1" fill="#fff"/>
<rect x="536" y="353" width="1" height="1" fill="#fff"/>
<rect x="539" y="355" width="4" height="6" fill="#fff"/>
<rect x="540" y="362" width="2" height="5" fill="#fff"/>
<rect x="539" y="353" width="1" height="1" fill="#fff"/>
<rect x="542" y="353" width="1" height="1" fill="#fff"/>
<rect x="545" y="355" width="4" height="6" fill="#fff"/>
<rect x="547" y="362" width="1" height="5" fill="#fff"/>
<rect x="545" y="353" width="1" height="1" fill="#fff"/>
<rect x="548" y="353" width="1" height="1" fill="#fff"/>
<rect x="551" y="355" width="4" height="6" fill="#fff"/>
<rect x="552" y="362" width="2" height="5" fill="#fff"/>
<rect x="551" y="353" width="1" height="1" fill="#fff"/>
<rect x="554" y="353" width="1" height="1" fill="#fff"/>
<rect x="557" y="355" width="4" height="6" fill="#fff"/>
<rect x="559" y="362" width="1" height="5" fill="#fff"/>
<rect x="557" y="353" width="1" height="1" fill="#fff"/>
<rect x="560" y="353" width="1" height="1" fill="#fff"/>
<rect x="563" y="355" width="4" height="6" fill="#fff"/>
<rect x="564" y="362" width="2" height="5" fill="#fff"/>
<rect x="563" y="353" width="1" height="1" fill="#fff"/>
<rect x="566" y="353" width="1" height="1" fill="#fff"/>
<rect x="568" y="355" width="4" height="6" fill="#fff"/>
<rect x="570" y="362" width="1" height="5" fill="#fff"/>
<rect x="568" y="353" width="1" height="1" fill="#fff"/>
<rect x="571" y="353" width="1" height="1" fill="#fff"/>
<rect x="574" y="355" width="4" height="6" fill="#fff"/>
<rect x="575" y="362" width="2" height="5" fill="#fff"/>
<rect x="574" y="353" width="1" height="1" fill="#fff"/>
<rect x="577" y="353" width="1" height="1" fill="#fff"/>
<rect x="580" y="355" width="4" height="6" fill="#fff"/>
<rect x="582" y="362" width="1" height="5" fill="#fff"/>
<rect x="580" y="353" width="1" height="1" fill="#fff"/>
<rect x="583" y="353" width="1" height="1" fill="#fff"/>
<rect x="394" y="351" width="4" height="17" fill="#000"/>
<rect x="395" y="352" width="1" height="1" fill="#fff"/>
<path d="M397.5,354.5 L407.5,354.5 L407.5,363.5 L405.5,363.5 L405.5,367.5 L397.5,367.5" fill="none" stroke="#000" stroke-width="1"/>
<path d="M405.5,360.5 L400.5,360.5 L400.5,363.5 L397.5,363.5" fill="none" stroke="#000" stroke-width="1"/>
<rect x="601" y="351" width="4" height="17" fill="#000"/>
<path d="M601.5,354.5 L591.5,354.5 L591.5,363.5 L594.5,363.5 L594.5,367.5 L601.5,367.5" fill="none" stroke="#000" stroke-width="1"/>
<path d="M594.5,361.5 L598.5,361.5 L598.5,363.5 L601.5,363.5" fill="none" stroke="#000" stroke-width="1"/>
<rect x="386" y="354" width="8" height="1" fill="#000"/>
<rect x="386" y="361" width="8" height="1" fill="#000"/>
<rect x="605" y="354" width="7" height="1" fill="#000"/>
<rect x="605" y="361" width="7" height="1" fill="#000"/>
<rect x="394" y="369" width="15" height="7" fill="#000"/>
<rect x="395" y="370" width="13" height="5" fill="#fff"/>
<rect x="412" y="369" width="31" height="7" fill="#000"/>
<rect x="413" y="370" width="29" height="5" fill="#fff"/>
<rect x="447" y="369" width="31" height="7" fill="#000"/>
<rect x="448" y="370" width="29" height="5" fill="#fff"/>
<rect x="485" y="369" width="31" height="7" fill="#000"/>
<rect x="486" y="370" width="29" height="5" fill="#fff"/>
<rect x="522" y="369" width="31" height="7" fill="#000"/>
<rect x="523" y="370" width="29" height="5" fill="#fff"/>
<rect x="558" y="369" width="31" height="7" fill="#000"/>
<rect x="559" y="370" width="29" height="5" fill="#fff"/>
<rect x="591" y="369" width="16" height="7" fill="#000"/>
<rect x="592" y="370" width="14" height="5" fill="#fff"/>
<rect x="412" y="377" width="175" height="8" fill="#000"/>
<rect x="413" y="385" width="174" height="7" fill="#000"/>
<rect x="413" y="379" width="1" height="6" fill="#fff"/>
<rect x="415" y="379" width="4" height="6" fill="#fff"/>
<rect x="417" y="386" width="1" height="5" fill="#fff"/>
<rect x="415" y="377" width="1" height="1" fill="#fff"/>
<rect x="418" y="377" width="1" height="1" fill="#fff"/>
<rect x="421" y="379" width="4" height="6" fill="#fff"/>
<rect x="422" y="386" width="2" height="5" fill="#fff"/>
<rect x="421" y="377" width="1" height="1" fill="#fff"/>
<rect x="424" y="377" width="1" height="1" fill="#fff"/>
<rect x="427" y="379" width="4" height="6" fill="#fff"/>
<rect x="429" y="386" width="1" height="5" fill="#fff"/>
<rect x="427" y="377" width="1" height="1" fill="#fff"/>
<rect x="430" y="377" width="1" height="1" fill="#fff"/>
<rect x="433" y="379" width="4" height="6" fill="#fff"/>
<rect x="434" y="386" width="2" height="5" fill="#fff"/>
<rect x="433" y="377" width="1" height="1" fill="#fff"/>
<rect x="436" y="377" width="1" height="1" fill="#fff"/>
<rect x="439" y="379" width="4" height="6" fill="#fff"/>
<rect x="441" y="386" width="1" height="5" fill="#fff"/>
<rect x="439" y="377" width="1" height="1" fill="#fff"/>
<rect x="442" y="377" width="1" height="1" fill="#fff"/>
<rect x="445" y="379" width="4" height="6" fill="#fff"/>
<rect x="446" y="386" width="2" height="5" fill="#fff"/>
<rect x="445" y="377" width="1" height="1" fill="#fff"/>
<rect x="448" y="377" width="1" height="1" fill="#fff"/>
<rect x="450" y="379" width="4" height="6" fill="#fff"/>
<rect x="452" y="386" width="1" height="5" fill="#fff"/>
<rect x="450" y="377" width="1" height="1" fill="#fff"/>
<rect x="453" y="377" width="1" height="1" fill="#fff"/>
<rect x="456" y="379" width="4" height="6" fill="#fff"/>
<rect x="457" y="386" width="2" height="5" fill="#fff"/>
<rect x="456" y="377" width="1" height="1" fill="#fff"/>
<rect x="459" y="377" width="1" height="1" fill="#fff"/>
<rect x="462" y="379" width="4" height="6" fill="#fff"/>
<rect x="464" y="386" width="1" height="5" fill="#fff"/>
<rect x="462" y="377" width="1" height="1" fill="#fff"/>
<rect x="465" y="377" width="1" height="1" fill="#fff"/>
<rect x="468" y="379" width="4" height="6" fill="#fff"/>
<rect x="469" y="386" width="2" height="5" fill="#fff"/>
<rect x="468" y="377" width="1" height="1" fill="#fff"/>
<rect x="471" y="377" width="1" height="1" fill="#fff"/>
<rect x="474" y="379" width="4" height="6" fill="#fff"/>
<rect x="476" y="386" width="1" height="5" fill="#fff"/>
<rect x="474" y="377" width="1" height="1" fill="#fff"/>
<rect x="477" y="377" width="1" height="1" fill="#fff"/>
<rect x="480" y="379" width="4" height="6" fill="#fff"/>
<rect x="481" y="386" width="2" height="5" fill="#fff"/>
<rect x="480" y="377" width="1" height="1" fill="#fff"/>
<rect x="483" y="377" width="1" height="1" fill="#fff"/>
<rect x="486" y="379" width="4" height="6" fill="#fff"/>
<rect x="488" y="386" width="1" height="5" fill="#fff"/>
<rect x="486" y="377" width="1" height="1" fill="#fff"/>
<rect x="489" y="377" width="1" height="1" fill="#fff"/>
<rect x="492" y="379" width="4" height="6" fill="#fff"/>
<rect x="493" y="386" width="2" height="5" fill="#fff"/>
<rect x="492" y="377" width="1" height="1" fill="#fff"/>
<rect x="495" y="377" width="1" height="1" fill="#fff"/>
<rect x="498" y="379" width="4" height="6" fill="#fff"/>
<rect x="500" y="386" width="1" height="5" fill="#fff"/>
<rect x="498" y="377" width="1" height="1" fill="#fff"/>
<rect x="501" y="377" width="1" height="1" fill="#fff"/>
<rect x="504" y="379" width="4" height="6" fill="#fff"/>
<rect x="505" y="386" width="2" height="5" fill="#fff"/>
<rect x="504" y="377" width="1" height="1" fill="#fff"/>
<rect x="507" y="377" width="1" height="1" fill="#fff"/>
<rect x="510" y="379" width="4" height="6" fill="#fff"/>
<rect x="512" y="386" width="1" height="5" fill="#fff"/>
<rect x="510" y="377" width="1" height="1" fill="#fff"/>
<rect x="513" y="377" width="1" height="1" fill="#fff"/>
<rect x="515" y="379" width="4" height="6" fill="#fff"/>
<rect x="516" y="386" width="2" height="5" fill="#fff"/>
<rect x="515" y="377" width="1" height="1" fill="#fff"/>
<rect x="518" y="377" width="1" height="1" fill="#fff"/>
<rect x="521" y="379" width="4" height="6" fill="#fff"/>
<rect x="523" y="386" width="1" height="5" fill="#fff"/>
<rect x="521" y="377" width="1" height="1" fill="#fff"/>
<rect x="524" y="377" width="1" height="1" fill="#fff"/>
<rect x="527" y="379" width="4" height="6" fill="#fff"/>
<rect x="528" y="386" width="2" height="5" fill="#fff"/>
<rect x="527" y="377" width="1" height="1" fill="#fff"/>
<rect x="530" y="377" width="1" height="1" fill="#fff"/>
<rect x="533" y="379" width="4" height="6" fill="#fff"/>
<rect x="535" y="386" width="1" height="5" fill="#fff"/>
<rect x="533" y="377" width="1" height="1" fill="#fff"/>
<rect x="536" y="377" width="1" height="1" fill="#fff"/>
<rect x="539" y="379" width="4" height="6" fill="#fff"/>
<rect x="540" y="386" width="2" height="5" fill="#fff"/>
<rect x="539" y="377" width="1" height="1" fill="#fff"/>
<rect x="542" y="377" width="1" height="1" fill="#fff"/>
<rect x="545" y="379" width="4" height="6" fill="#fff"/>
<rect x="547" y="386" width="1" height="5" fill="#fff"/>
<rect x="545" y="377" width="1" height="1" fill="#fff"/>
<rect x="548" y="377" width="1" height="1" fill="#fff"/>
<rect x="551" y="379" width="4" height="6" fill="#fff"/>
<rect x="552" y="386" width="2" height="5" fill="#fff"/>
<rect x="551" y="377" width="1" height="1" fill="#fff"/>
<rect x="554" y="377" width="1" height="1" fill="#fff"/>
<rect x="557" y="379" width="4" height="6" fill="#fff"/>
<rect x="559" y="386" width="1" height="5" fill="#fff"/>
<rect x="557" y="377" width="1" height="1" fill="#fff"/>
<rect x="560" y="377" width="1" height="1" fill="#fff"/>
<rect x="563" y="379" width="4" height="6" fill="#fff"/>
<rect x="564" y="386" width="2" height="5" fill="#fff"/>
<rect x="563" y="377" width="1" height="1" fill="#fff"/>
<rect x="566" y="377" width="1" height="1" fill="#fff"/>
<rect x="568" y="379" width="4" height="6" fill="#fff"/>
<rect x="570" y="386" width="1" height="5" fill="#fff"/>
<rect x="568" y="377" width="1" height="1" fill="#fff"/>
<rect x="571" y="377" width="1" height="1" fill="#fff"/>
<rect x="574" y="379" width="4" height="6" fill="#fff"/>
<rect x="575" y="386" width="2" height="5" fill="#fff"/>
<rect x="574" y="377" width="1" height="1" fill="#fff"/>
<rect x="577" y="377" width="1" height="1" fill="#fff"/>
<rect x="580" y="379" width="4" height="6" fill="#fff"/>
<rect x="582" y="386" width="1" height="5" fill="#fff"/>
<rect x="580" y="377" width="1" height="1" fill="#fff"/>
<rect x="583" y="377" width="1" height="1" fill="#fff"/>
<rect x="394" y="376" width="1" height="16" fill="#000"/>
<rect x="396" y="376" width="2" height="16" fill="#000"/>
<rect x="395" y="377" width="1" height="14" fill="#fff"/>
<path d="M397.5,378.5 L407.5,378.5 L407.5,387.5 L405.5,387.5 L405.5,391.5 L397.5,391.5" fill="none" stroke="#000" stroke-width="1"/>
<path d="M405.5,384.5 L400.5,384.5 L400.5,387.5 L397.5,387.5" fill="none" stroke="#000" stroke-width="1"/>
<rect x="601" y="375" width="4" height="17" fill="#000"/>
<path d="M601.5,378.5 L591.5,378.5 L591.5,387.5 L594.5,387.5 L594.5,391.5 L601.5,391.5" fill="none" stroke="#000" stroke-width="1"/>
<path d="M594.5,385.5 L598.5,385.5 L598.5,387.5 L601.5,387.5" fill="none" stroke="#000" stroke-width="1"/>
<rect x="386" y="379" width="8" height="1" fill="#000"/>
<rect x="386" y="386" width="8" height="1" fill="#000"/>
<rect x="604" y="379" width="9" height="8" fill="#000"/>
<rect x="605" y="380" width="7" height="6" fill="#fff"/>
<rect x="386" y="393" width="226" height="1" fill="#000"/>
<rect x="412" y="395" width="175" height="8" fill="#000"/>
<rect x="413" y="403" width="174" height="7" fill="#000"/>
<rect x="413" y="397" width="1" height="6" fill="#fff"/>
<rect x="415" y="397" width="4" height="6" fill="#fff"/>
<rect x="417" y="404" width="1" height="5" fill="#fff"/>
<rect x="415" y="395" width="1" height="1" fill="#fff"/>
<rect x="418" y="395" width="1" height="1" fill="#fff"/>
<rect x="421" y="397" width="4" height="6" fill="#fff"/>
<rect x="422" y="404" width="2" height="5" fill="#fff"/>
<rect x="421" y="395" width="1" height="1" fill="#fff"/>
<rect x="424" y="395" width="1" height="1" fill="#fff"/>
<rect x="427" y="397" width="4" height="6" fill="#fff"/>
<rect x="429" y="404" width="1" height="5" fill="#fff"/>
<rect x="427" y="395" width="1" height="1" fill="#fff"/>
<rect x="430" y="395" width="1" height="1" fill="#fff"/>
<rect x="433" y="397" width="4" height="6" fill="#fff"/>
<rect x="434" y="404" width="2" height="5" fill="#fff"/>
<rect x="433" y="395" width="1" height="1" fill="#fff"/>
<rect x="436" y="395" width="1" height="1" fill="#fff"/>
<rect x="439" y="397" width="4" height="6" fill="#fff"/>
<rect x="441" y="404" width="1" height="5" fill="#fff"/>
<rect x="439" y="395" width="1" height="1" fill="#fff"/>
<rect x="442" y="395" width="1" height="1" fill="#fff"/>
<rect x="445" y="397" width="4" height="6" fill="#fff"/>
<rect x="446" y="404" width="2" height="5" fill="#fff"/>
<rect x="445" y="395" width="1" height="1" fill="#fff"/>
<rect x="448" y="395" width="1" height="1" fill="#fff"/>
<rect x="450" y="397" width="4" height="6" fill="#fff"/>
<rect x="452" y="404" width="1" height="5" fill="#fff"/>
<rect x="450" y="395" width="1" height="1" fill="#fff"/>
<rect x="453" y="395" width="1" height="1" fill="#fff"/>
<rect x="456" y="397" width="4" height="6" fill="#fff"/>
<rect x="457" y="404" width="2" height="5" fill="#fff"/>
<rect x="456" y="395" width="1" height="1" fill="#fff"/>
<rect x="459" y="395" width="1" height="1" fill="#fff"/>
<rect x="462" y="397" width="4" height="6" fill="#fff"/>
<rect x="464" y="404" width="1" height="5" fill="#fff"/>
<rect x="462" y="395" width="1" height="1" fill="#fff"/>
<rect x="465" y="395" width="1" height="1" fill="#fff"/>
<rect x="468" y="397" width="4" height="6" fill="#fff"/>
<rect x="469" y="404" width="2" height="5" fill="#fff"/>
<rect x="468" y="395" width="1" height="1" fill="#fff"/>
<rect x="471" y="395" width="1" height="1" fill="#fff"/>
<rect x="474" y="397" width="4" height="6" fill="#fff"/>
<rect x="476" y="404" width="1" height="5" fill="#fff"/>
<rect x="474" y="395" width="1" height="1" fill="#fff"/>
<rect x="477" y="395" width="1" height="1" fill="#fff"/>
<rect x="480" y="397" width="4" height="6" fill="#fff"/>
<rect x="481" y="404" width="2" height="5" fill="#fff"/>
<rect x="480" y="395" width="1" height="1" fill="#fff"/>
<rect x="483" y="395" width="1" height="1" fill="#fff"/>
<rect x="486" y="397" width="4" height="6" fill="#fff"/>
<rect x="488" y="404" width="1" height="5" fill="#fff"/>
<rect x="486" y="395" width="1" height="1" fill="#fff"/>
<rect x="489" y="395" width="1" height="1" fill="#fff"/>
<rect x="492" y="397" width="4" height="6" fill="#fff"/>
<rect x="493" y="404" width="2" height="5" fill="#fff"/>
<rect x="492" y="395" width="1" height="1" fill="#fff"/>
<rect x="495" y="395" width="1" height="1" fill="#fff"/>
<rect x="498" y="397" width="4" height="6" fill="#fff"/>
<rect x="500" y="404" width="1" height="5" fill="#fff"/>
<rect x="498" y="395" width="1" height="1" fill="#fff"/>
<rect x="501" y="395" width="1" height="1" fill="#fff"/>
<rect x="504" y="397" width="4" height="6" fill="#fff"/>
<rect x="505" y="404" width="2" height="5" fill="#fff"/>
<rect x="504" y="395" width="1" height="1" fill="#fff"/>
<rect x="507" y="395" width="1" height="1" fill="#fff"/>
<rect x="510" y="397" width="4" height="6" fill="#fff"/>
<rect x="512" y="404" width="1" height="5" fill="#fff"/>
<rect x="510" y="395" width="1" height="1" fill="#fff"/>
<rect x="513" y="395" width="1" height="1" fill="#fff"/>
<rect x="515" y="397" width="4" height="6" fill="#fff"/>
<rect x="516" y="404" width="2" height="5" fill="#fff"/>
<rect x="515" y="395" width="1" height="1" fill="#fff"/>
<rect x="518" y="395" width="1" height="1" fill="#fff"/>
<rect x="521" y="397" width="4" height="6" fill="#fff"/>
<rect x="523" y="404" width="1" height="5" fill="#fff"/>
<rect x="521" y="395" width="1" height="1" fill="#fff"/>
<rect x="524" y="395" width="1" height="1" fill="#fff"/>
<rect x="527" y="397" width="4" height="6" fill="#fff"/>
<rect x="528" y="404" width="2" height="5" fill="#fff"/>
<rect x="527" y="395" width="1" height="1" fill="#fff"/>
<rect x="530" y="395" width="1" height="1" fill="#fff"/>
<rect x="533" y="397" width="4" height="6" fill="#fff"/>
<rect x="535" y="404" width="1" height="5" fill="#fff"/>
<rect x="533" y="395" width="1" height="1" fill="#fff"/>
<rect x="536" y="395" width="1" height="1" fill="#fff"/>
<rect x="539" y="397" width="4" height="6" fill="#fff"/>
<rect x="540" y="404" width="2" height="5" fill="#fff"/>
<rect x="539" y="395" width="1" height="1" fill="#fff"/>
<rect x="542" y="395" width="1" height="1" fill="#fff"/>
<rect x="545" y="397" width="4" height="6" fill="#fff"/>
<rect x="547" y="404" width="1" height="5" fill="#fff"/>
<rect x="545" y="395" width="1" height="1" fill="#fff"/>
<rect x="548" y="395" width="1" height="1" fill="#fff"/>
<rect x="551" y="397" width="4" height="6" fill="#fff"/>
<rect x="552" y="404" width="2" height="5" fill="#fff"/>
<rect x="551" y="395" width="1" height="1" fill="#fff"/>
<rect x="554" y="395" width="1" height="1" fill="#fff"/>
<rect x="557" y="397" width="4" height="6" fill="#fff"/>
<rect x="559" y="404" width="1" height="5" fill="#fff"/>
<rect x="557" y="395" width="1" height="1" fill="#fff"/>
<rect x="560" y="395" width="1" height="1" fill="#fff"/>
<rect x="563" y="397" width="4" height="6" fill="#fff"/>
<rect x="564" y="404" width="2" height="5" fill="#fff"/>
<rect x="563" y="395" width="1" height="1" fill="#fff"/>
<rect x="566" y="395" width="1" height="1" fill="#fff"/>
<rect x="568" y="397" width="4" height="6" fill="#fff"/>
<rect x="570" y="404" width="1" height="5" fill="#fff"/>
<rect x="568" y="395" width="1" height="1" fill="#fff"/>
<rect x="571" y="395" width="1" height="1" fill="#fff"/>
<rect x="574" y="397" width="4" height="6" fill="#fff"/>
<rect x="575" y="404" width="2" height="5" fill="#fff"/>
<rect x="574" y="395" width="1" height="1" fill="#fff"/>
<rect x="577" y="395" width="1" height="1" fill="#fff"/>
<rect x="580" y="397" width="4" height="6" fill="#fff"/>
<rect x="582" y="404" width="1" height="5" fill="#fff"/>
<rect x="580" y="395" width="1" height="1" fill="#fff"/>
<rect x="583" y="395" width="1" height="1" fill="#fff"/>
<rect x="394" y="393" width="4" height="17" fill="#000"/>
<rect x="395" y="394" width="1" height="1" fill="#fff"/>
<path d="M397.5,396.5 L407.5,396.5 L407.5,405.5 L405.5,405.5 L405.5,409.5 L397.5,409.5" fill="none" stroke="#000" stroke-width="1"/>
<path d="M405.5,402.5 L400.5,402.5 L400.5,405.5 L397.5,405.5" fill="none" stroke="#000" stroke-width="1"/>
<rect x="601" y="393" width="4" height="17" fill="#000"/>
<path d="M601.5,396.5 L591.5,396.5 L591.5,405.5 L594.5,405.5 L594.5,409.5 L601.5,409.5" fill="none" stroke="#000" stroke-width="1"/>
<path d="M594.5,403.5 L598.5,403.5 L598.5,405.5 L601.5,405.5" fill="none" stroke="#000" stroke-width="1"/>
<rect x="386" y="396" width="8" height="1" fill="#000"/>
<rect x="386" y="403" width="8" height="1" fill="#000"/>
<rect x="605" y="396" width="7" height="1" fill="#000"/>
<rect x="605" y="403" width="7" height="1" fill="#000"/>
<rect x="394" y="411" width="15" height="7" fill="#000"/>
<rect x="395" y="412" width="13" height="5" fill="#fff"/>
<rect x="412" y="411" width="31" height="7" fill="#000"/>
<rect x="413" y="412" width="29" height="5" fill="#fff"/>
<rect x="447" y="411" width="31" height="7" fill="#000"/>
<rect x="448" y="412" width="29" height="5" fill="#fff"/>
<rect x="485" y="411" width="31" height="7" fill="#000"/>
<rect x="486" y="412" width="29" height="5" fill="#fff"/>
<rect x="522" y="411" width="31" height="7" fill="#000"/>
<rect x="523" y="412" width="29" height="5" fill="#fff"/>
<rect x="558" y="411" width="31" height="7" fill="#000"/>
<rect x="559" y="412" width="29" height="5" fill="#fff"/>
<rect x="591" y="411" width="16" height="7" fill="#000"/>
<rect x="592" y="412" width="14" height="5" fill="#fff"/>
<rect x="412" y="419" width="175" height="8" fill="#000"/>
<rect x="413" y="427" width="174" height="7" fill="#000"/>
<rect x="413" y="421" width="1" height="6" fill="#fff"/>
<rect x="415" y="421" width="4" height="6" fill="#fff"/>
<rect x="417" y="428" width="1" height="5" fill="#fff"/>
<rect x="415" y="419" width="1" height="1" fill="#fff"/>
<rect x="418" y="419" width="1" height="1" fill="#fff"/>
<rect x="421" y="421" width="4" height="6" fill="#fff"/>
<rect x="422" y="428" width="2" height="5" fill="#fff"/>
<rect x="421" y="419" width="1" height="1" fill="#fff"/>
<rect x="424" y="419" width="1" height="1" fill="#fff"/>
<rect x="427" y="421" width="4" height="6" fill="#fff"/>
<rect x="429" y="428" width="1" height="5" fill="#fff"/>
<rect x="427" y="419" width="1" height="1" fill="#fff"/>
<rect x="430" y="419" width="1" height="1" fill="#fff"/>
<rect x="433" y="421" width="4" height="6" fill="#fff"/>
<rect x="434" y="428" width="2" height="5" fill="#fff"/>
<rect x="433" y="419" width="1" height="1" fill="#fff"/>
<rect x="436" y="419" width="1" height="1" fill="#fff"/>
<rect x="439" y="421" width="4" height="6" fill="#fff"/>
<rect x="441" y="428" width="1" height="5" fill="#fff"/>
<rect x="439" y="419" width="1" height="1" fill="#fff"/>
<rect x="442" y="419" width="1" height="1" fill="#fff"/>
<rect x="445" y="421" width="4" height="6" fill="#fff"/>
<rect x="446" y="428" width="2" height="5" fill="#fff"/>
<rect x="445" y="419" width="1" height="1" fill="#fff"/>
<rect x="448" y="419" width="1" height="1" fill="#fff"/>
<rect x="450" y="421" width="4" height="6" fill="#fff"/>
<rect x="452" y="428" width="1" height="5" fill="#fff"/>
<rect x="450" y="419" width="1" height="1" fill="#fff"/>
<rect x="453" y="419" width="1" height="1" fill="#fff"/>
<rect x="456" y="421" width="4" height="6" fill="#fff"/>
<rect x="457" y="428" width="2" height="5" fill="#fff"/>
<rect x="456" y="419" width="1" height="1" fill="#fff"/>
<rect x="459" y="419" width="1" height="1" fill="#fff"/>
<rect x="462" y="421" width="4" height="6" fill="#fff"/>
<rect x="464" y="428" width="1" height="5" fill="#fff"/>
<rect x="462" y="419" width="1" height="1" fill="#fff"/>
<rect x="465" y="419" width="1" height="1" fill="#fff"/>
<rect x="468" y="421" width="4" height="6" fill="#fff"/>
<rect x="469" y="428" width="2" height="5" fill="#fff"/>
<rect x="468" y="419" width="1" height="1" fill="#fff"/>
<rect x="471" y="419" width="1" height="1" fill="#fff"/>
<rect x="474" y="421" width="4" height="6" fill="#fff"/>
<rect x="476" y="428" width="1" height="5" fill="#fff"/>
<rect x="474" y="419" width="1" height="1" fill="#fff"/>
<rect x="477" y="419" width="1" height="1" fill="#fff"/>
<rect x="480" y="421" width="4" height="6" fill="#fff"/>
<rect x="481" y="428" width="2" height="5" fill="#fff"/>
<rect x="480" y="419" width="1" height="1" fill="#fff"/>
<rect x="483" y="419" width="1" height="1" fill="#fff"/>
<rect x="486" y="421" width="4" height="6" fill="#fff"/>
<rect x="488" y="428" width="1" height="5" fill="#fff"/>
<rect x="486" y="419" width="1" height="1" fill="#fff"/>
<rect x="489" y="419" width="1" height="1" fill="#fff"/>
<rect x="492" y="421" width="4" height="6" fill="#fff"/>
<rect x="493" y="428" width="2" height="5" fill="#fff"/>
<rect x="492" y="419" width="1" height="1" fill="#fff"/>
<rect x="495" y="419" width="1" height="1" fill="#fff"/>
<rect x="498" y="421" width="4" height="6" fill="#fff"/>
<rect x="500" y="428" width="1" height="5" fill="#fff"/>
<rect x="498" y="419" width="1" height="1" fill="#fff"/>
<rect x="501" y="419" width="1" height="1" fill="#fff"/>
<rect x="504" y="421" width="4" height="6" fill="#fff"/>
<rect x="505" y="428" width="2" height="5" fill="#fff"/>
<rect x="504" y="419" width="1" height="1" fill="#fff"/>
<rect x="507" y="419" width="1" height="1" fill="#fff"/>
<rect x="510" y="421" width="4" height="6" fill="#fff"/>
<rect x="512" y="428" width="1" height="5" fill="#fff"/>
<rect x="510" y="419" width="1" height="1" fill="#fff"/>
<rect x="513" y="419" width="1" height="1" fill="#fff"/>
<rect x="515" y="421" width="4" height="6" fill="#fff"/>
<rect x="516" y="428" width="2" height="5" fill="#fff"/>
<rect x="515" y="419" width="1" height="1" fill="#fff"/>
<rect x="518" y="419" width="1" height="1" fill="#fff"/>
<rect x="521" y="421" width="4" height="6" fill="#fff"/>
<rect x="523" y="428" width="1" height="5" fill="#fff"/>
<rect x="521" y="419" width="1" height="1" fill="#fff"/>
<rect x="524" y="419" width="1" height="1" fill="#fff"/>
<rect x="527" y="421" width="4" height="6" fill="#fff"/>
<rect x="528" y="428" width="2" height="5" fill="#fff"/>
<rect x="527" y="419" width="1" height="1" fill="#fff"/>
<rect x="530" y="419" width="1" height="1" fill="#fff"/>
<rect x="533" y="421" width="4" height="6" fill="#fff"/>
<rect x="535" y="428" width="1" height="5" fill="#fff"/>
<rect x="533" y="419" width="1" height="1" fill="#fff"/>
<rect x="536" y="419" width="1" height="1" fill="#fff"/>
<rect x="539" y="421" width="4" height="6" fill="#fff"/>
<rect x="540" y="428" width="2" height="5" fill="#fff"/>
<rect x="539" y="419" width="1" height="1" fill="#fff"/>
<rect x="542" y="419" width="1" height="1" fill="#fff"/>
<rect x="545" y="421" width="4" height="6" fill="#fff"/>
<rect x="547" y="428" width="1" height="5" fill="#fff"/>
<rect x="545" y="419" width="1" height="1" fill="#fff"/>
<rect x="548" y="419" width="1" height="1" fill="#fff"/>
<rect x="551" y="421" width="4" height="6" fill="#fff"/>
<rect x="552" y="428" width="2" height="5" fill="#fff"/>
<rect x="551" y="419" width="1" height="1" fill="#fff"/>
<rect x="554" y="419" width="1" height="1" fill="#fff"/>
<rect x="557" y="421" width="4" height="6" fill="#fff"/>
<rect x="559" y="428" width="1" height="5" fill="#fff"/>
<rect x="557" y="419" width="1" height="1" fill="#fff"/>
<rect x="560" y="419" width="1" height="1" fill="#fff"/>
<rect x="563" y="421" width="4" height="6" fill="#fff"/>
<rect x="564" y="428" width="2" height="5" fill="#fff"/>
<rect x="563" y="419" width="1" height="1" fill="#fff"/>
<rect x="566" y="419" width="1" height="1" fill="#fff"/>
<rect x="568" y="421" width="4" height="6" fill="#fff"/>
<rect x="570" y="428" width="1" height="5" fill="#fff"/>
<rect x="568" y="419" width="1" height="1" fill="#fff"/>
<rect x="571" y="419" width="1" height="1" fill="#fff"/>
<rect x="574" y="421" width="4" height="6" fill="#fff"/>
<rect x="575" y="428" width="2" height="5" fill="#fff"/>
<rect x="574" y="419" width="1" height="1" fill="#fff"/>
<rect x="577" y="419" width="1" height="1" fill="#fff"/>
<rect x="580" y="421" width="4" height="6" fill="#fff"/>
<rect x="582" y="428" width="1" height="5" fill="#fff"/>
<rect x="580" y="419" width="1" height="1" fill="#fff"/>
<rect x="583" y="419" width="1" height="1" fill="#fff"/>
<rect x="394" y="418" width="1" height="16" fill="#000"/>
<rect x="396" y="418" width="2" height="16" fill="#000"/>
<rect x="395" y="419" width="1" height="14" fill="#fff"/>
<path d="M397.5,420.5 L407.5,420.5 L407.5,429.5 L405.5,429.5 L405.5,433.5 L397.5,433.5" fill="none" stroke="#000" stroke-width="1"/>
<path d="M405.5,426.5 L400.5,426.5 L400.5,429.5 L397.5,429.5" fill="none" stroke="#000" stroke-width="1"/>
<rect x="601" y="417" width="4" height="17" fill="#000"/>
<path d="M601.5,420.5 L591.5,420.5 L591.5,429.5 L594.5,429.5 L594.5,433.5 L601.5,433.5" fill="none" stroke="#000" stroke-width="1"/>
<path d="M594.5,427.5 L598.5,427.5 L598.5,429.5 L601.5,429.5" fill="none" stroke="#000" stroke-width="1"/>
<rect x="386" y="421" width="8" height="1" fill="#000"/>
<rect x="386" y="428" width="8" height="1" fill="#000"/>
<rect x="604" y="421" width="9" height="8" fill="#000"/>
<rect x="605" y="422" width="7" height="6" fill="#fff"/>
<rect x="386" y="435" width="226" height="1" fill="#000"/>
<rect x="412" y="437" width="175" height="8" fill="#000"/>
<rect x="413" y="445" width="174" height="7" fill="#000"/>
<rect x="413" y="439" width="1" height="6" fill="#fff"/>
<rect x="415" y="439" width="4" height="6" fill="#fff"/>
<rect x="417" y="446" width="1" height="5" fill="#fff"/>
<rect x="415" y="437" width="1" height="1" fill="#fff"/>
<rect x="418" y="437" width="1" height="1" fill="#fff"/>
<rect x="421" y="439" width="4" height="6" fill="#fff"/>
<rect x="422" y="446" width="2" height="5" fill="#fff"/>
<rect x="421" y="437" width="1" height="1" fill="#fff"/>
<rect x="424" y="437" width="1" height="1" fill="#fff"/>
<rect x="427" y="439" width="4" height="6" fill="#fff"/>
<rect x="429" y="446" width="1" height="5" fill="#fff"/>
<rect x="427" y="437" width="1" height="1" fill="#fff"/>
<rect x="430" y="437" width="1" height="1" fill="#fff"/>
<rect x="433" y="439" width="4" height="6" fill="#fff"/>
<rect x="434" y="446" width="2" height="5" fill="#fff"/>
<rect x="433" y="437" width="1" height="1" fill="#fff"/>
<rect x="436" y="437" width="1" height="1" fill="#fff"/>
<rect x="439" y="439" width="4" height="6" fill="#fff"/>
<rect x="441" y="446" width="1" height="5" fill="#fff"/>
<rect x="439" y="437" width="1" height="1" fill="#fff"/>
<rect x="442" y="437" width="1" height="1" fill="#fff"/>
<rect x="445" y="439" width="4" height="6" fill="#fff"/>
<rect x="446" y="446" width="2" height="5" fill="#fff"/>
<rect x="445" y="437" width="1" height="1" fill="#fff"/>
<rect x="448" y="437" width="1" height="1" fill="#fff"/>
<rect x="450" y="439" width="4" height="6" fill="#fff"/>
<rect x="452" y="446" width="1" height="5" fill="#fff"/>
<rect x="450" y="437" width="1" height="1" fill="#fff"/>
<rect x="453" y="437" width="1" height="1" fill="#fff"/>
<rect x="456" y="439" width="4" height="6" fill="#fff"/>
<rect x="457" y="446" width="2" height="5" fill="#fff"/>
<rect x="456" y="437" width="1" height="1" fill="#fff"/>
<rect x="459" y="437" width="1" height="1" fill="#fff"/>
<rect x="462" y="439" width="4" height="6" fill="#fff"/>
<rect x="464" y="446" width="1" height="5" fill="#fff"/>
<rect x="462" y="437" width="1" height="1" fill="#fff"/>
<rect x="465" y="437" width="1" height="1" fill="#fff"/>
<rect x="468" y="439" width="4" height="6" fill="#fff"/>
<rect x="469" y="446" width="2" height="5" fill="#fff"/>
<rect x="468" y="437" width="1" height="1" fill="#fff"/>
<rect x="471" y="437" width="1" height="1" fill="#fff"/>
<rect x="474" y="439" width="4" height="6" fill="#fff"/>
<rect x="476" y="446" width="1" height="5" fill="#fff"/>
<rect x="474" y="437" width="1" height="1" fill="#fff"/>
<rect x="477" y="437" width="1" height="1" fill="#fff"/>
<rect x="480" y="439" width="4" height="6" fill="#fff"/>
<rect x="481" y="446" width="2" height="5" fill="#fff"/>
<rect x="480" y="437" width="1" height="1" fill="#fff"/>
<rect x="483" y="437" width="1" height="1" fill="#fff"/>
<rect x="486" y="439" width="4" height="6" fill="#fff"/>
<rect x="488" y="446" width="1" height="5" fill="#fff"/>
<rect x="486" y="437" width="1" height="1" fill="#fff"/>
<rect x="489" y="437" width="1" height="1" fill="#fff"/>
<rect x="492" y="439" width="4" height="6" fill="#fff"/>
<rect x="493" y="446" width="2" height="5" fill="#fff"/>
<rect x="492" y="437" width="1" height="1" fill="#fff"/>
<rect x="495" y="437" width="1" height="1" fill="#fff"/>
<rect x="498" y="439" width="4" height="6" fill="#fff"/>
<rect x="500" y="446" width="1" height="5" fill="#fff"/>
<rect x="498" y="437" width="1" height="1" fill="#fff"/>
<rect x="501" y="437" width="1" height="1" fill="#fff"/>
<rect x="504" y="439" width="4" height="6" fill="#fff"/>
<rect x="505" y="446" width="2" height="5" fill="#fff"/>
<rect x="504" y="437" width="1" height="1" fill="#fff"/>
<rect x="507" y="437" width="1" height="1" fill="#fff"/>
<rect x="510" y="439" width="4" height="6" fill="#fff"/>
<rect x="512" y="446" width="1" height="5" fill="#fff"/>
<rect x="510" y="437" width="1" height="1" fill="#fff"/>
<rect x="513" y="437" width="1" height="1" fill="#fff"/>
<rect x="515" y="439" width="4" height="6" fill="#fff"/>
<rect x="516" y="446" width="2" height="5" fill="#fff"/>
<rect x="515" y="437" width="1" height="1" fill="#fff"/>
<rect x="518" y="437" width="1" height="1" fill="#fff"/>
<rect x="521" y="439" width="4" height="6" fill="#fff"/>
<rect x="523" y="446" width="1" height="5" fill="#fff"/>
<rect x="521" y="437" width="1" height="1" fill="#fff"/>
<rect x="524" y="437" width="1" height="1" fill="#fff"/>
<rect x="527" y="439" width="4" height="6" fill="#fff"/>
<rect x="528" y="446" width="2" height="5" fill="#fff"/>
<rect x="527" y="437" width="1" height="1" fill="#fff"/>
<rect x="530" y="437" width="1" height="1" fill="#fff"/>
<rect x="533" y="439" width="4" height="6" fill="#fff"/>
<rect x="535" y="446" width="1" height="5" fill="#fff"/>
<rect x="533" y="437" width="1" height="1" fill="#fff"/>
<rect x="536" y="437" width="1" height="1" fill="#fff"/>
<rect x="539" y="439" width="4" height="6" fill="#fff"/>
<rect x="540" y="446" width="2" height="5" fill="#fff"/>
<rect x="539" y="437" width="1" height="1" fill="#fff"/>
<rect x="542" y="437" width="1" height="1" fill="#fff"/>
<rect x="545" y="439" width="4" height="6" fill="#fff"/>
<rect x="547" y="446" width="1" height="5" fill="#fff"/>
<rect x="545" y="437" width="1" height="1" fill="#fff"/>
<rect x="548" y="437" width="1" height="1" fill="#fff"/>
<rect x="551" y="439" width="4" height="6" fill="#fff"/>
<rect x="552" y="446" width="2" height="5" fill="#fff"/>
<rect x="551" y="437" width="1" height="1" fill="#fff"/>
<rect x="554" y="437" width="1" height="1" fill="#fff"/>
<rect x="557" y="439" width="4" height="6" fill="#fff"/>
<rect x="559" y="446" width="1" height="5" fill="#fff"/>
<rect x="557" y="437" width="1" height="1" fill="#fff"/>
<rect x="560" y="437" width="1" height="1" fill="#fff"/>
<rect x="563" y="439" width="4" height="6" fill="#fff"/>
<rect x="564" y="446" width="2" height="5" fill="#fff"/>
<rect x="563" y="437" width="1" height="1" fill="#fff"/>
<rect x="566" y="437" width="1" height="1" fill="#fff"/>
<rect x="568" y="439" width="4" height="6" fill="#fff"/>
<rect x="570" y="446" width="1" height="5" fill="#fff"/>
<rect x="568" y="437" width="1" height="1" fill="#fff"/>
<rect x="571" y="437" width="1" height="1" fill="#fff"/>
<rect x="574" y="439" width="4" height="6" fill="#fff"/>
<rect x="575" y="446" width="2" height="5" fill="#fff"/>
<rect x="574" y="437" width="1" height="1" fill="#fff"/>
<rect x="577" y="437" width="1" height="1" fill="#fff"/>
<rect x="580" y="439" width="4" height="6" fill="#fff"/>
<rect x="582" y="446" width="1" height="5" fill="#fff"/>
<rect x="580" y="437" width="1" height="1" fill="#fff"/>
<rect x="583" y="437" width="1" height="1" fill="#fff"/>
<rect x="394" y="435" width="4" height="17" fill="#000"/>
<rect x="395" y="436" width="1" height="1" fill="#fff"/>
<path d="M397.5,438.5 L407.5,438.5 L407.5,447.5 L405.5,447.5 L405.5,451.5 L397.5,451.5" fill="none" stroke="#000" stroke-width="1"/>
<path d="M405.5,444.5 L400.5,444.5 L400.5,447.5 L397.5,447.5" fill="none" stroke="#000" stroke-width="1"/>
<rect x="601" y="435" width="4" height="17" fill="#000"/>
<path d="M601.5,438.5 L591.5,438.5 L591.5,447.5 L594.5,447.5 L594.5,451.5 L601.5,451.5" fill="none" stroke="#000" stroke-width="1"/>
<path d="M594.5,445.5 L598.5,445.5 L598.5,447.5 L601.5,447.5" fill="none" stroke="#000" stroke-width="1"/>
<rect x="386" y="438" width="8" height="1" fill="#000"/>
<rect x="386" y="445" width="8" height="1" fill="#000"/>
<rect x="605" y="438" width="7" height="1" fill="#000"/>
<rect x="605" y="445" width="7" height="1" fill="#000"/>
<rect x="394" y="453" width="15" height="7" fill="#000"/>
<rect x="395" y="454" width="13" height="5" fill="#fff"/>
<rect x="412" y="453" width="31" height="7" fill="#000"/>
<rect x="413" y="454" width="29" height="5" fill="#fff"/>
<rect x="447" y="453" width="31" height="7" fill="#000"/>
<rect x="448" y="454" width="29" height="5" fill="#fff"/>
<rect x="485" y="453" width="31" height="7" fill="#000"/>
<rect x="486" y="454" width="29" height="5" fill="#fff"/>
<rect x="522" y="453" width="31" height="7" fill="#000"/>
<rect x="523" y="454" width="29" height="5" fill="#fff"/>
<rect x="558" y="453" width="31" height="7" fill="#000"/>
<rect x="559" y="454" width="29" height="5" fill="#fff"/>
<rect x="591" y="453" width="16" height="7" fill="#000"/>
<rect x="592" y="454" width="14" height="5" fill="#fff"/>
<rect x="412" y="461" width="175" height="8" fill="#000"/>
<rect x="413" y="469" width="174" height="7" fill="#000"/>
<rect x="413" y="463" width="1" height="6" fill="#fff"/>
<rect x="415" y="463" width="4" height="6" fill="#fff"/>
<rect x="417" y="470" width="1" height="5" fill="#fff"/>
<rect x="415" y="461" width="1" height="1" fill="#fff"/>
<rect x="418" y="461" width="1" height="1" fill="#fff"/>
<rect x="421" y="463" width="4" height="6" fill="#fff"/>
<rect x="422" y="470" width="2" height="5" fill="#fff"/>
<rect x="421" y="461" width="1" height="1" fill="#fff"/>
<rect x="424" y="461" width="1" height="1" fill="#fff"/>
<rect x="427" y="463" width="4" height="6" fill="#fff"/>
<rect x="429" y="470" width="1" height="5" fill="#fff"/>
<rect x="427" y="461" width="1" height="1" fill="#fff"/>
<rect x="430" y="461" width="1" height="1" fill="#fff"/>
<rect x="433" y="463" width="4" height="6" fill="#fff"/>
<rect x="434" y="470" width="2" height="5" fill="#fff"/>
<rect x="433" y="461" width="1" height="1" fill="#fff"/>
<rect x="436" y="461" width="1" height="1" fill="#fff"/>
<rect x="439" y="463" width="4" height="6" fill="#fff"/>
<rect x="441" y="470" width="1" height="5" fill="#fff"/>
<rect x="439" y="461" width="1" height="1" fill="#fff"/>
<rect x="442" y="461" width="1" height="1" fill="#fff"/>
<rect x="445" y="463" width="4" height="6" fill="#fff"/>
<rect x="446" y="470" width="2" height="5" fill="#fff"/>
<rect x="445" y="461" width="1" height="1" fill="#fff"/>
<rect x="448" y="461" width="1" height="1" fill="#fff"/>
<rect x="450" y="463" width="4" height="6" fill="#fff"/>
<rect x="452" y="470" width="1" height="5" fill="#fff"/>
<rect x="450" y="461" width="1" height="1" fill="#fff"/>
<rect x="453" y="461" width="1" height="1" fill="#fff"/>
<rect x="456" y="463" width="4" height="6" fill="#fff"/>
<rect x="457" y="470" width="2" height="5" fill="#fff"/>
<rect x="456" y="461" width="1" height="1" fill="#fff"/>
<rect x="459" y="461" width="1" height="1" fill="#fff"/>
<rect x="462" y="463" width="4" height="6" fill="#fff"/>
<rect x="464" y="470" width="1" height="5" fill="#fff"/>
<rect x="462" y="461" width="1" height="1" fill="#fff"/>
<rect x="465" y="461" width="1" height="1" fill="#fff"/>
<rect x="468" y="463" width="4" height="6" fill="#fff"/>
<rect x="469" y="470" width="2" height="5" fill="#fff"/>
<rect x="468" y="461" width="1" height="1" fill="#fff"/>
<rect x="471" y="461" width="1" height="1" fill="#fff"/>
<rect x="474" y="463" width="4" height="6" fill="#fff"/>
<rect x="476" y="470" width="1" height="5" fill="#fff"/>
<rect x="474" y="461" width="1" height="1" fill="#fff"/>
<rect x="477" y="461" width="1" height="1" fill="#fff"/>
<rect x="480" y="463" width="4" height="6" fill="#fff"/>
<rect x="481" y="470" width="2" height="5" fill="#fff"/>
<rect x="480" y="461" width="1" height="1" fill="#fff"/>
<rect x="483" y="461" width="1" height="1" fill="#fff"/>
<rect x="486" y="463" width="4" height="6" fill="#fff"/>
<rect x="488" y="470" width="1" height="5" fill="#fff"/>
<rect x="486" y="461" width="1" height="1" fill="#fff"/>
<rect x="489" y="461" width="1" height="1" fill="#fff"/>
<rect x="492" y="463" width="4" height="6" fill="#fff"/>
<rect x="493" y="470" width="2" height="5" fill="#fff"/>
<rect x="492" y="461" width="1" height="1" fill="#fff"/>
<rect x="495" y="461" width="1" height="1" fill="#fff"/>
<rect x="498" y="463" width="4" height="6" fill="#fff"/>
<rect x="500" y="470" width="1" height="5" fill="#fff"/>
<rect x="498" y="461" width="1" height="1" fill="#fff"/>
<rect x="501" y="461" width="1" height="1" fill="#fff"/>
<rect x="504" y="463" width="4" height="6" fill="#fff"/>
<rect x="505" y="470" width="2" height="5" fill="#fff"/>
<rect x="504" y="461" width="1" height="1" fill="#fff"/>
<rect x="507" y="461" width="1" height="1" fill="#fff"/>
<rect x="510" y="463" width="4" height="6" fill="#fff"/>
<rect x="512" y="470" width="1" height="5" fill="#fff"/>
<rect x="510" y="461" width="1" height="1" fill="#fff"/>
<rect x="513" y="461" width="1" height="1" fill="#fff"/>
<rect x="515" y="463" width="4" height="6" fill="#fff"/>
<rect x="516" y="470" width="2" height="5" fill="#fff"/>
<rect x="515" y="461" width="1" height="1" fill="#fff"/>
<rect x="518" y="461" width="1" height="1" fill="#fff"/>
<rect x="521" y="463" width="4" height="6" fill="#fff"/>
<rect x="523" y="470" width="1" height="5" fill="#fff"/>
<rect x="521" y="461" width="1" height="1" fill="#fff"/>
<rect x="524" y="461" width="1" height="1" fill="#fff"/>
<rect x="527" y="463" width="4" height="6" fill="#fff"/>
<rect x="528" y="470" width="2" height="5" fill="#fff"/>
<rect x="527" y="461" width="1" height="1" fill="#fff"/>
<rect x="530" y="461" width="1" height="1" fill="#fff"/>
<rect x="533" y="463" width="4" height="6" fill="#fff"/>
<rect x="535" y="470" width="1" height="5" fill="#fff"/>
<rect x="533" y="461" width="1" height="1" fill="#fff"/>
<rect x="536" y="461" width="1" height="1" fill="#fff"/>
<rect x="539" y="463" width="4" height="6" fill="#fff"/>
<rect x="540" y="470" width="2" height="5" fill="#fff"/>
<rect x="539" y="461" width="1" height="1" fill="#fff"/>
<rect x="542" y="461" width="1" height="1" fill="#fff"/>
<rect x="545" y="463" width="4" height="6" fill="#fff"/>
<rect x="547" y="470" width="1" height="5" fill="#fff"/>
<rect x="545" y="461" width="1" height="1" fill="#fff"/>
<rect x="548" y="461" width="1" height="1" fill="#fff"/>
<rect x="551" y="463" width="4" height="6" fill="#fff"/>
<rect x="552" y="470" width="2" height="5" fill="#fff"/>
<rect x="551" y="461" width="1" height="1" fill="#fff"/>
<rect x="554" y="461" width="1" height="1" fill="#fff"/>
<rect x="557" y="463" width="4" height="6" fill="#fff"/>
<rect x="559" y="470" width="1" height="5" fill="#fff"/>
<rect x="557" y="461" width="1" height="1" fill="#fff"/>
<rect x="560" y="461" width="1" height="1" fill="#fff"/>
<rect x="563" y="463" width="4" height="6" fill="#fff"/>
<rect x="564" y="470" width="2" height="5" fill="#fff"/>
<rect x="563" y="461" width="1" height="1" fill="#fff"/>
<rect x="566" y="461" width="1" height="1" fill="#fff"/>
<rect x="568" y="463" width="4" height="6" fill="#fff"/>
<rect x="570" y="470" width="1" height="5" fill="#fff"/>
<rect x="568" y="461" width="1" height="1" fill="#fff"/>
<rect x="571" y="461" width="1" height="1" fill="#fff"/>
<rect x="574" y="463" width="4" height="6" fill="#fff"/>
<rect x="575" y="470" width="2" height="5" fill="#fff"/>
<rect x="574" y="461" width="1" height="1" fill="#fff"/>
<rect x="577" y="461" width="1" height="1" fill="#fff"/>
<rect x="580" y="463" width="4" height="6" fill="#fff"/>
<rect x="582" y="470" width="1" height="5" fill="#fff"/>
<rect x="580" y="461" width="1" height="1" fill="#fff"/>
<rect x="583" y="461" width="1" height="1" fill="#fff"/>
<rect x="394" y="460" width="1" height="16" fill="#000"/>
<rect x="396" y="460" width="2" height="16" fill="#000"/>
<rect x="395" y="461" width="1" height="14" fill="#fff"/>
<path d="M397.5,462.5 L407.5,462.5 L407.5,471.5 L405.5,471.5 L405.5,475.5 L397.5,475.5" fill="none" stroke="#000" stroke-width="1"/>
<path d="M405.5,468.5 L400.5,468.5 L400.5,471.5 L397.5,471.5" fill="none" stroke="#000" stroke-width="1"/>
<rect x="601" y="459" width="4" height="17" fill="#000"/>
<path d="M601.5,462.5 L591.5,462.5 L591.5,471.5 L594.5,471.5 L594.5,475.5 L601.5,475.5" fill="none" stroke="#000" stroke-width="1"/>
<path d="M594.5,469.5 L598.5,469.5 L598.5,471.5 L601.5,471.5" fill="none" stroke="#000" stroke-width="1"/>
<rect x="386" y="463" width="8" height="1" fill="#000"/>
<rect x="386" y="470" width="8" height="1" fill="#000"/>
<rect x="604" y="463" width="9" height="8" fill="#000"/>
<rect x="605" y="464" width="7" height="6" fill="#fff"/>
<rect x="386" y="477" width="226" height="1" fill="#000"/>
<rect x="412" y="478" width="175" height="8" fill="#000"/>
<rect x="413" y="486" width="174" height="7" fill="#000"/>
<rect x="413" y="480" width="1" height="6" fill="#fff"/>
<rect x="415" y="480" width="4" height="6" fill="#fff"/>
<rect x="417" y="487" width="1" height="5" fill="#fff"/>
<rect x="415" y="478" width="1" height="1" fill="#fff"/>
<rect x="418" y="478" width="1" height="1" fill="#fff"/>
<rect x="421" y="480" width="4" height="6" fill="#fff"/>
<rect x="422" y="487" width="2" height="5" fill="#fff"/>
<rect x="421" y="478" width="1" height="1" fill="#fff"/>
<rect x="424" y="478" width="1" height="1" fill="#fff"/>
<rect x="427" y="480" width="4" height="6" fill="#fff"/>
<rect x="429" y="487" width="1" height="5" fill="#fff"/>
<rect x="427" y="478" width="1" height="1" fill="#fff"/>
<rect x="430" y="478" width="1" height="1" fill="#fff"/>
<rect x="433" y="480" width="4" height="6" fill="#fff"/>
<rect x="434" y="487" width="2" height="5" fill="#fff"/>
<rect x="433" y="478" width="1" height="1" fill="#fff"/>
<rect x="436" y="478" width="1" height="1" fill="#fff"/>
<rect x="439" y="480" width="4" height="6" fill="#fff"/>
<rect x="441" y="487" width="1" height="5" fill="#fff"/>
<rect x="439" y="478" width="1" height="1" fill="#fff"/>
<rect x="442" y="478" width="1" height="1" fill="#fff"/>
<rect x="445" y="480" width="4" height="6" fill="#fff"/>
<rect x="446" y="487" width="2" height="5" fill="#fff"/>
<rect x="445" y="478" width="1" height="1" fill="#fff"/>
<rect x="448" y="478" width="1" height="1" fill="#fff"/>
<rect x="450" y="480" width="4" height="6" fill="#fff"/>
<rect x="452" y="487" width="1" height="5" fill="#fff"/>
<rect x="450" y="478" width="1" height="1" fill="#fff"/>
<rect x="453" y="478" width="1" height="1" fill="#fff"/>
<rect x="456" y="480" width="4" height="6" fill="#fff"/>
<rect x="457" y="487" width="2" height="5" fill="#fff"/>
<rect x="456" y="478" width="1" height="1" fill="#fff"/>
<rect x="459" y="478" width="1" height="1" fill="#fff"/>
<rect x="462" y="480" width="4" height="6" fill="#fff"/>
<rect x="464" y="487" width="1" height="5" fill="#fff"/>
<rect x="462" y="478" width="1" height="1" fill="#fff"/>
<rect x="465" y="478" width="1" height="1" fill="#fff"/>
<rect x="468" y="480" width="4" height="6" fill="#fff"/>
<rect x="469" y="487" width="2" height="5" fill="#fff"/>
<rect x="468" y="478" width="1" height="1" fill="#fff"/>
<rect x="471" y="478" width="1" height="1" fill="#fff"/>
<rect x="474" y="480" width="4" height="6" fill="#fff"/>
<rect x="476" y="487" width="1" height="5" fill="#fff"/>
<rect x="474" y="478" width="1" height="1" fill="#fff"/>
<rect x="477" y="478" width="1" height="1" fill="#fff"/>
<rect x="480" y="480" width="4" height="6" fill="#fff"/>
<rect x="481" y="487" width="2" height="5" fill="#fff"/>
<rect x="480" y="478" width="1" height="1" fill="#fff"/>
<rect x="483" y="478" width="1" height="1" fill="#fff"/>
<rect x="486" y="480" width="4" height="6" fill="#fff"/>
<rect x="488" y="487" width="1" height="5" fill="#fff"/>
<rect x="486" y="478" width="1" height="1" fill="#fff"/>
<rect x="489" y="478" width="1" height="1" fill="#fff"/>
<rect x="492" y="480" width="4" height="6" fill="#fff"/>
<rect x="493" y="487" width="2" height="5" fill="#fff"/>
<rect x="492" y="478" width="1" height="1" fill="#fff"/>
<rect x="495" y="478" width="1" height="1" fill="#fff"/>
<rect x="498" y="480" width="4" height="6" fill="#fff"/>
<rect x="500" y="487" width="1" height="5" fill="#fff"/>
<rect x="498" y="478" width="1" height="1" fill="#fff"/>
<rect x="501" y="478" width="1" height="1" fill="#fff"/>
<rect x="504" y="480" width="4" height="6" fill="#fff"/>
<rect x="505" y="487" width="2" height="5" fill="#fff"/>
<rect x="504" y="478" width="1" height="1" fill="#fff"/>
<rect x="507" y="478" width="1" height="1" fill="#fff"/>
<rect x="510" y="480" width="4" height="6" fill="#fff"/>
<rect x="512" y="487" width="1" height="5" fill="#fff"/>
<rect x="510" y="478" width="1" height="1" fill="#fff"/>
<rect x="513" y="478" width="1" height="1" fill="#fff"/>
<rect x="515" y="480" width="4" height="6" fill="#fff"/>
<rect x="516" y="487" width="2" height="5" fill="#fff"/>
<rect x="515" y="478" width="1" height="1" fill="#fff"/>
<rect x="518" y="478" width="1" height="1" fill="#fff"/>
<rect x="521" y="480" width="4" height="6" fill="#fff"/>
<rect x="523" y="487" width="1" height="5" fill="#fff"/>
<rect x="521" y="478" width="1" height="1" fill="#fff"/>
<rect x="524" y="478" width="1" height="1" fill="#fff"/>
<rect x="527" y="480" width="4" height="6" fill="#fff"/>
<rect x="528" y="487" width="2" height="5" fill="#fff"/>
<rect x="527" y="478" width="1" height="1" fill="#fff"/>
<rect x="530" y="478" width="1" height="1" fill="#fff"/>
<rect x="533" y="480" width="4" height="6" fill="#fff"/>
<rect x="535" y="487" width="1" height="5" fill="#fff"/>
<rect x="533" y="478" width="1" height="1" fill="#fff"/>
<rect x="536" y="478" width="1" height="1" fill="#fff"/>
<rect x="539" y="480" width="4" height="6" fill="#fff"/>
<rect x="540" y="487" width="2" height="5" fill="#fff"/>
<rect x="539" y="478" width="1" height="1" fill="#fff"/>
<rect x="542" y="478" width="1" height="1" fill="#fff"/>
<rect x="545" y="480" width="4" height="6" fill="#fff"/>
<rect x="547" y="487" width="1" height="5" fill="#fff"/>
<rect x="545" y="478" width="1" height="1" fill="#fff"/>
<rect x="548" y="478" width="1" height="1" fill="#fff"/>
<rect x="551" y="480" width="4" height="6" fill="#fff"/>
<rect x="552" y="487" width="2" height="5" fill="#fff"/>
<rect x="551" y="478" width="1" height="1" fill="#fff"/>
<rect x="554" y="478" width="1" height="1" fill="#fff"/>
<rect x="557" y="480" width="4" height="6" fill="#fff"/>
<rect x="559" y="487" width="1" height="5" fill="#fff"/>
<rect x="557" y="478" width="1" height="1" fill="#fff"/>
<rect x="560" y="478" width="1" height="1" fill="#fff"/>
<rect x="563" y="480" width="4" height="6" fill="#fff"/>
<rect x="564" y="487" width="2" height="5" fill="#fff"/>
<rect x="563" y="478" width="1" height="1" fill="#fff"/>
<rect x="566" y="478" width="1" height="1" fill="#fff"/>
<rect x="568" y="480" width="4" height="6" fill="#fff"/>
<rect x="570" y="487" width="1" height="5" fill="#fff"/>
<rect x="568" y="478" width="1" height="1" fill="#fff"/>
<rect x="571" y="478" width="1" height="1" fill="#fff"/>
<rect x="574" y="480" width="4" height="6" fill="#fff"/>
<rect x="575" y="487" width="2" height="5" fill="#fff"/>
<rect x="574" y="478" width="1" height="1" fill="#fff"/>
<rect x="577" y="478" width="1" height="1" fill="#fff"/>
<rect x="580" y="480" width="4" height="6" fill="#fff"/>
<rect x="582" y="487" width="1" height="5" fill="#fff"/>
<rect x="580" y="478" width="1" height="1" fill="#fff"/>
<rect x="583" y="478" width="1" height="1" fill="#fff"/>
<rect x="394" y="476" width="4" height="17" fill="#000"/>
<rect x="395" y="477" width="1" height="1" fill="#fff"/>
<path d="M397.5,479.5 L407.5,479.5 L407.5,488.5 L405.5,488.5 L405.5,492.5 L397.5,492.5" fill="none" stroke="#000" stroke-width="1"/>
<path d="M405.5,485.5 L400.5,485.5 L400.5,488.5 L397.5,488.5" fill="none" stroke="#000" stroke-width="1"/>
<rect x="601" y="476" width="4" height="17" fill="#000"/>
<path d="M601.5,479.5 L591.5,479.5 L591.5,488.5 L594.5,488.5 L594.5,492.5 L601.5,492.5" fill="none" stroke="#000" stroke-width="1"/>
<path d="M594.5,486.5 L598.5,486.5 L598.5,488.5 L601.5,488.5" fill="none" stroke="#000" stroke-width="1"/>
<rect x="386" y="479" width="8" height="1" fill="#000"/>
<rect x="386" y="486" width="8" height="1" fill="#000"/>
<rect x="605" y="479" width="7" height="1" fill="#000"/>
<rect x="605" y="486" width="7" height="1" fill="#000"/>
<rect x="394" y="494" width="15" height="7" fill="#000"/>
<rect x="395" y="495" width="13" height="5" fill="#fff"/>
<rect x="412" y="494" width="31" height="7" fill="#000"/>
<rect x="413" y="495" width="29" height="5" fill="#fff"/>
<rect x="447" y="494" width="31" height="7" fill="#000"/>
<rect x="448" y="495" width="29" height="5" fill="#fff"/>
<rect x="485" y="494" width="31" height="7" fill="#000"/>
<rect x="486" y="495" width="29" height="5" fill="#fff"/>
<rect x="522" y="494" width="31" height="7" fill="#000"/>
<rect x="523" y="495" width="29" height="5" fill="#fff"/>
<rect x="558" y="494" width="31" height="7" fill="#000"/>
<rect x="559" y="495" width="29" height="5" fill="#fff"/>
<rect x="591" y="494" width="16" height="7" fill="#000"/>
<rect x="592" y="495" width="14" height="5" fill="#fff"/>
<rect x="412" y="503" width="175" height="8" fill="#000"/>
<rect x="413" y="511" width="174" height="7" fill="#000"/>
<rect x="413" y="505" width="1" height="6" fill="#fff"/>
<rect x="415" y="505" width="4" height="6" fill="#fff"/>
<rect x="417" y="512" width="1" height="5" fill="#fff"/>
<rect x="415" y="503" width="1" height="1" fill="#fff"/>
<rect x="418" y="503" width="1" height="1" fill="#fff"/>
<rect x="421" y="505" width="4" height="6" fill="#fff"/>
<rect x="422" y="512" width="2" height="5" fill="#fff"/>
<rect x="421" y="503" width="1" height="1" fill="#fff"/>
<rect x="424" y="503" width="1" height="1" fill="#fff"/>
<rect x="427" y="505" width="4" height="6" fill="#fff"/>
<rect x="429" y="512" width="1" height="5" fill="#fff"/>
<rect x="427" y="503" width="1" height="1" fill="#fff"/>
<rect x="430" y="503" width="1" height="1" fill="#fff"/>
<rect x="433" y="505" width="4" height="6" fill="#fff"/>
<rect x="434" y="512" width="2" height="5" fill="#fff"/>
<rect x="433" y="503" width="1" height="1" fill="#fff"/>
<rect x="436" y="503" width="1" height="1" fill="#fff"/>
<rect x="439" y="505" width="4" height="6" fill="#fff"/>
<rect x="441" y="512" width="1" height="5" fill="#fff"/>
<rect x="439" y="503" width="1" height="1" fill="#fff"/>
<rect x="442" y="503" width="1" height="1" fill="#fff"/>
<rect x="445" y="505" width="4" height="6" fill="#fff"/>
<rect x="446" y="512" width="2" height="5" fill="#fff"/>
<rect x="445" y="503" width="1" height="1" fill="#fff"/>
<rect x="448" y="503" width="1" height="1" fill="#fff"/>
<rect x="450" y="505" width="4" height="6" fill="#fff"/>
<rect x="452" y="512" width="1" height="5" fill="#fff"/>
<rect x="450" y="503" width="1" height="1" fill="#fff"/>
<rect x="453" y="503" width="1" height="1" fill="#fff"/>
<rect x="456" y="505" width="4" height="6" fill="#fff"/>
<rect x="457" y="512" width="2" height="5" fill="#fff"/>
<rect x="456" y="503" width="1" height="1" fill="#fff"/>
<rect x="459" y="503" width="1" height="1" fill="#fff"/>
<rect x="462" y="505" width="4" height="6" fill="#fff"/>
<rect x="464" y="512" width="1" height="5" fill="#fff"/>
<rect x="462" y="503" width="1" height="1" fill="#fff"/>
<rect x="465" y="503" width="1" height="1" fill="#fff"/>
<rect x="468" y="505" width="4" height="6" fill="#fff"/>
<rect x="469" y="512" width="2" height="5" fill="#fff"/>
<rect x="468" y="503" width="1" height="1" fill="#fff"/>
<rect x="471" y="503" width="1" height="1" fill="#fff"/>
<rect x="474" y="505" width="4" height="6" fill="#fff"/>
<rect x="476" y="512" width="1" height="5" fill="#fff"/>
<rect x="474" y="503" width="1" height="1" fill="#fff"/>
<rect x="477" y="503" width="1" height="1" fill="#fff"/>
<rect x="480" y="505" width="4" height="6" fill="#fff"/>
<rect x="481" y="512" width="2" height="5" fill="#fff"/>
<rect x="480" y="503" width="1" height="1" fill="#fff"/>
<rect x="483" y="503" width="1" height="1" fill="#fff"/>
<rect x="486" y="505" width="4" height="6" fill="#fff"/>
<rect x="488" y="512" width="1" height="5" fill="#fff"/>
<rect x="486" y="503" width="1" height="1" fill="#fff"/>
<rect x="489" y="503" width="1" height="1" fill="#fff"/>
<rect x="492" y="505" width="4" height="6" fill="#fff"/>
<rect x="493" y="512" width="2" height="5" fill="#fff"/>
<rect x="492" y="503" width="1" height="1" fill="#fff"/>
<rect x="495" y="503" width="1" height="1" fill="#fff"/>
<rect x="498" y="505" width="4" height="6" fill="#fff"/>
<rect x="500" y="512" width="1" height="5" fill="#fff"/>
<rect x="498" y="503" width="1" height="1" fill="#fff"/>
<rect x="501" y="503" width="1" height="1" fill="#fff"/>
<rect x="504" y="505" width="4" height="6" fill="#fff"/>
<rect x="505" y="512" width="2" height="5" fill="#fff"/>
<rect x="504" y="503" width="1" height="1" fill="#fff"/>
<rect x="507" y="503" width="1" height="1" fill="#fff"/>
<rect x="510" y="505" width="4" height="6" fill="#fff"/>
<rect x="512" y="512" width="1" height="5" fill="#fff"/>
<rect x="510" y="503" width="1" height="1" fill="#fff"/>
<rect x="513" y="503" width="1" height="1" fill="#fff"/>
<rect x="515" y="505" width="4" height="6" fill="#fff"/>
<rect x="516" y="512" width="2" height="5" fill="#fff"/>
<rect x="515" y="503" width="1" height="1" fill="#fff"/>
<rect x="518" y="503" width="1" height="1" fill="#fff"/>
<rect x="521" y="505" width="4" height="6" fill="#fff"/>
<rect x="523" y="512" width="1" height="5" fill="#fff"/>
<rect x="521" y="503" width="1" height="1" fill="#fff"/>
<rect x="524" y="503" width="1" height="1" fill="#fff"/>
<rect x="527" y="505" width="4" height="6" fill="#fff"/>
<rect x="528" y="512" width="2" height="5" fill="#fff"/>
<rect x="527" y="503" width="1" height="1" fill="#fff"/>
<rect x="530" y="503" width="1" height="1" fill="#fff"/>
<rect x="533" y="505" width="4" height="6" fill="#fff"/>
<rect x="535" y="512" width="1" height="5" fill="#fff"/>
<rect x="533" y="503" width="1" height="1" fill="#fff"/>
<rect x="536" y="503" width="1" height="1" fill="#fff"/>
<rect x="539" y="505" width="4" height="6" fill="#fff"/>
<rect x="540" y="512" width="2" height="5" fill="#fff"/>
<rect x="539" y="503" width="1" height="1" fill="#fff"/>
<rect x="542" y="503" width="1" height="1" fill="#fff"/>
<rect x="545" y="505" width="4" height="6" fill="#fff"/>
<rect x="547" y="512" width="1" height="5" fill="#fff"/>
<rect x="545" y="503" width="1" height="1" fill="#fff"/>
<rect x="548" y="503" width="1" height="1" fill="#fff"/>
<rect x="551" y="505" width="4" height="6" fill="#fff"/>
<rect x="552" y="512" width="2" height="5" fill="#fff"/>
<rect x="551" y="503" width="1" height="1" fill="#fff"/>
<rect x="554" y="503" width="1" height="1" fill="#fff"/>
<rect x="557" y="505" width="4" height="6" fill="#fff"/>
<rect x="559" y="512" width="1" height="5" fill="#fff"/>
<rect x="557" y="503" width="1" height="1" fill="#fff"/>
<rect x="560" y="503" width="1" height="1" fill="#fff"/>
<rect x="563" y="505" width="4" height="6" fill="#fff"/>
<rect x="564" y="512" width="2" height="5" fill="#fff"/>
<rect x="563" y="503" width="1" height="1" fill="#fff"/>
<rect x="566" y="503" width="1" height="1" fill="#fff"/>
<rect x="568" y="505" width="4" height="6" fill="#fff"/>
<rect x="570" y="512" width="1" height="5" fill="#fff"/>
<rect x="568" y="503" width="1" height="1" fill="#fff"/>
<rect x="571" y="503" width="1" height="1" fill="#fff"/>
<rect x="574" y="505" width="4" height="6" fill="#fff"/>
<rect x="575" y="512" width="2" height="5" fill="#fff"/>
<rect x="574" y="503" width="1" height="1" fill="#fff"/>
<rect x="577" y="503" width="1" height="1" fill="#fff"/>
<rect x="580" y="505" width="4" height="6" fill="#fff"/>
<rect x="582" y="512" width="1" height="5" fill="#fff"/>
<rect x="580" y="503" width="1" height="1" fill="#fff"/>
<rect x="583" y="503" width="1" height="1" fill="#fff"/>
<rect x="394" y="502" width="1" height="16" fill="#000"/>
<rect x="396" y="502" width="2" height="16" fill="#000"/>
<rect x="395" y="503" width="1" height="14" fill="#fff"/>
<path d="M397.5,504.5 L407.5,504.5 L407.5,513.5 L405.5,513.5 L405.5,517.5 L397.5,517.5" fill="none" stroke="#000" stroke-width="1"/>
<path d="M405.5,510.5 L400.5,510.5 L400.5,513.5 L397.5,513.5" fill="none" stroke="#000" stroke-width="1"/>
<rect x="601" y="501" width="4" height="17" fill="#000"/>
<path d="M601.5,504.5 L591.5,504.5 L591.5,513.5 L594.5,513.5 L594.5,517.5 L601.5,517.5" fill="none" stroke="#000" stroke-width="1"/>
<path d="M594.5,511.5 L598.5,511.5 L598.5,513.5 L601.5,513.5" fill="none" stroke="#000" stroke-width="1"/>
<rect x="386" y="505" width="8" height="1" fill="#000"/>
<rect x="386" y="512" width="8" height="1" fill="#000"/>
<rect x="604" y="505" width="9" height="8" fill="#000"/>
<rect x="605" y="506" width="7" height="6" fill="#fff"/>
<rect x="471.4" y="385" width="59.2" height="18.2" fill="#000"/>
<rect x="472" y="466.6" width="60" height="18.6" fill="#000"/>
<rect x="650" y="347" width="127" height="43" fill="#000"/>
<rect x="650" y="355" width="1" height="27" fill="#fff"/>
<rect x="651" y="362" width="1" height="12" fill="#fff"/>
<rect x="653" y="387" width="4" height="1" fill="#fff"/>
<rect x="659" y="387" width="4" height="1" fill="#fff"/>
<rect x="665" y="387" width="4" height="1" fill="#fff"/>
<rect x="671" y="387" width="4" height="1" fill="#fff"/>
<rect x="678" y="387" width="4" height="1" fill="#fff"/>
<rect x="684" y="387" width="4" height="1" fill="#fff"/>
<rect x="690" y="387" width="4" height="1" fill="#fff"/>
<rect x="696" y="387" width="4" height="1" fill="#fff"/>
<rect x="702" y="387" width="4" height="1" fill="#fff"/>
<rect x="709" y="387" width="4" height="1" fill="#fff"/>
<rect x="715" y="387" width="4" height="1" fill="#fff"/>
<rect x="721" y="387" width="4" height="1" fill="#fff"/>
<rect x="727" y="387" width="4" height="1" fill="#fff"/>
<rect x="733" y="387" width="4" height="1" fill="#fff"/>
<rect x="740" y="387" width="4" height="1" fill="#fff"/>
<rect x="746" y="387" width="4" height="1" fill="#fff"/>
<rect x="752" y="387" width="4" height="1" fill="#fff"/>
<rect x="758" y="387" width="4" height="1" fill="#fff"/>
<rect x="764" y="387" width="4" height="1" fill="#fff"/>
<rect x="771" y="387" width="4" height="1" fill="#fff"/>
<rect x="700" y="361" width="28" height="14" fill="#fff"/>
<rect x="765" y="405" width="7" height="13" fill="#000"/>
<rect x="766" y="411" width="5" height="1" fill="#fff"/>
<rect x="766" y="416" width="5" height="1" fill="#fff"/>
<rect x="755" y="426" width="31" height="37" fill="#000"/>
<rect x="779" y="422" width="7" height="46" fill="#000"/>
<rect x="783" y="419" width="3" height="52" fill="#000"/>
<rect x="752" y="432" width="3" height="25" fill="#000"/>
<rect x="748" y="435" width="5" height="8" fill="#000"/>
<rect x="749" y="436" width="3" height="6" fill="#fff"/>
<rect x="748" y="446" width="5" height="9" fill="#000"/>
<rect x="749" y="447" width="3" height="7" fill="#fff"/>
<rect x="753" y="433" width="1" height="8" fill="#fff"/>
<rect x="754" y="433" width="1" height="1" fill="#fff"/>
<rect x="754" y="435" width="1" height="1" fill="#fff"/>
<rect x="754" y="437" width="1" height="1" fill="#fff"/>
<rect x="754" y="439" width="1" height="1" fill="#fff"/>
<rect x="754" y="442" width="1" height="5" fill="#fff"/>
<rect x="753" y="448" width="1" height="8" fill="#fff"/>
<rect x="754" y="449" width="1" height="1" fill="#fff"/>
<rect x="754" y="451" width="1" height="1" fill="#fff"/>
<rect x="754" y="453" width="1" height="1" fill="#fff"/>
<rect x="754" y="455" width="1" height="1" fill="#fff"/>
<rect x="639" y="494" width="112" height="24" fill="#000"/>
<rect x="640" y="495" width="110" height="22" fill="#fff"/>
<rect x="642" y="497" width="4" height="1" fill="#000"/>
<rect x="641" y="498" width="7" height="2" fill="#000"/>
<rect x="642" y="500" width="4" height="2" fill="#000"/>
<rect x="641" y="504" width="7" height="3" fill="#000"/>
<rect x="642" y="505" width="5" height="1" fill="#fff"/>
<rect x="651" y="497" width="4" height="1" fill="#000"/>
<rect x="650" y="498" width="7" height="2" fill="#000"/>
<rect x="651" y="500" width="4" height="2" fill="#000"/>
<rect x="650" y="504" width="7" height="3" fill="#000"/>
<rect x="651" y="505" width="5" height="1" fill="#fff"/>
<rect x="660" y="497" width="4" height="1" fill="#000"/>
<rect x="659" y="498" width="7" height="2" fill="#000"/>
<rect x="660" y="500" width="4" height="2" fill="#000"/>
<rect x="659" y="504" width="7" height="3" fill="#000"/>
<rect x="660" y="505" width="5" height="1" fill="#fff"/>
<rect x="669" y="497" width="4" height="1" fill="#000"/>
<rect x="668" y="498" width="7" height="2" fill="#000"/>
<rect x="669" y="500" width="4" height="2" fill="#000"/>
<rect x="668" y="504" width="7" height="3" fill="#000"/>
<rect x="669" y="505" width="5" height="1" fill="#fff"/>
<rect x="678" y="497" width="4" height="1" fill="#000"/>
<rect x="677" y="498" width="7" height="2" fill="#000"/>
<rect x="678" y="500" width="4" height="2" fill="#000"/>
<rect x="677" y="504" width="7" height="3" fill="#000"/>
<rect x="678" y="505" width="5" height="1" fill="#fff"/>
<rect x="687" y="497" width="4" height="1" fill="#000"/>
<rect x="686" y="498" width="7" height="2" fill="#000"/>
<rect x="687" y="500" width="4" height="2" fill="#000"/>
<rect x="686" y="504" width="7" height="3" fill="#000"/>
<rect x="687" y="505" width="5" height="1" fill="#fff"/>
<rect x="696" y="497" width="4" height="1" fill="#000"/>
<rect x="695" y="498" width="7" height="2" fill="#000"/>
<rect x="696" y="500" width="4" height="2" fill="#000"/>
<rect x="695" y="504" width="7" height="3" fill="#000"/>
<rect x="696" y="505" width="5" height="1" fill="#fff"/>
<rect x="705" y="497" width="4" height="1" fill="#000"/>
<rect x="704" y="498" width="7" height="2" fill="#000"/>
<rect x="705" y="500" width="4" height="2" fill="#000"/>
<rect x="704" y="504" width="7" height="3" fill="#000"/>
<rect x="705" y="505" width="5" height="1" fill="#fff"/>
<rect x="714" y="497" width="4" height="1" fill="#000"/>
<rect x="713" y="498" width="7" height="2" fill="#000"/>
<rect x="714" y="500" width="4" height="2" fill="#000"/>
<rect x="713" y="504" width="7" height="3" fill="#000"/>
<rect x="714" y="505" width="5" height="1" fill="#fff"/>
<rect x="723" y="497" width="4" height="1" fill="#000"/>
<rect x="722" y="498" width="7" height="2" fill="#000"/>
<rect x="723" y="500" width="4" height="2" fill="#000"/>
<rect x="722" y="504" width="7" height="3" fill="#000"/>
<rect x="723" y="505" width="5" height="1" fill="#fff"/>
<rect x="733" y="497" width="4" height="1" fill="#000"/>
<rect x="732" y="498" width="7" height="2" fill="#000"/>
<rect x="733" y="500" width="4" height="2" fill="#000"/>
<rect x="732" y="504" width="7" height="3" fill="#000"/>
<rect x="733" y="505" width="5" height="1" fill="#fff"/>
<rect x="742" y="497" width="4" height="1" fill="#000"/>
<rect x="741" y="498" width="7" height="2" fill="#000"/>
<rect x="742" y="500" width="4" height="2" fill="#000"/>
<rect x="741" y="504" width="7" height="3" fill="#000"/>
<rect x="742" y="505" width="5" height="1" fill="#fff"/>
<rect x="640" y="502" width="110" height="1" fill="#000"/>
<rect x="645" y="508" width="7" height="7" fill="#000"/>
<rect x="646" y="509" width="5" height="5" fill="#fff"/>
<rect x="654" y="508" width="7" height="7" fill="#000"/>
<rect x="655" y="509" width="5" height="5" fill="#fff"/>
<rect x="664" y="508" width="7" height="7" fill="#000"/>
<rect x="665" y="509" width="5" height="5" fill="#fff"/>
<rect x="673" y="508" width="7" height="7" fill="#000"/>
<rect x="674" y="509" width="5" height="5" fill="#fff"/>
<rect x="682" y="508" width="7" height="7" fill="#000"/>
<rect x="683" y="509" width="5" height="5" fill="#fff"/>
<rect x="691" y="508" width="7" height="7" fill="#000"/>
<rect x="692" y="509" width="5" height="5" fill="#fff"/>
<rect x="701" y="508" width="7" height="7" fill="#000"/>
<rect x="702" y="509" width="5" height="5" fill="#fff"/>
<rect x="710" y="508" width="7" height="7" fill="#000"/>
<rect x="711" y="509" width="5" height="5" fill="#fff"/>
<rect x="719" y="508" width="7" height="7" fill="#000"/>
<rect x="720" y="509" width="5" height="5" fill="#fff"/>
<rect x="728" y="508" width="7" height="7" fill="#000"/>
<rect x="729" y="509" width="5" height="5" fill="#fff"/>
<rect x="738" y="508" width="7" height="7" fill="#000"/>
<rect x="739" y="509" width="5" height="5" fill="#fff"/>
<rect x="640" y="508" width="2" height="7" fill="#000"/>
<rect x="640" y="510" width="1" height="1" fill="#fff"/>
<rect x="640" y="512" width="1" height="1" fill="#fff"/>
<rect x="748" y="508" width="2" height="7" fill="#000"/>
<rect x="749" y="510" width="1" height="1" fill="#fff"/>
<rect x="749" y="512" width="1" height="1" fill="#fff"/>
</g>
<g font-family="'Liberation Sans', sans-serif" fill="#000" style="opacity:0.999">
<path d="M20,37 L23,37 L23,36 L29,36 L36,34.4 L36,41.6 L29,40 L23,40 L23,39 L20,39 Z" fill="#000" stroke="none" stroke-width="1"/>
<path d="M37.6,29 L58.4,29 L61,31.6 L61,45.4 L58.4,48 L37.6,48 L35,45.4 L35,31.6 Z" fill="#000"/>
<path d="M38,31 L57,31 L58,32 L58,44 L57,45 L38,45 L37,44 L37,32 Z" fill="#fff"/>
<path d="M28.5,38 L38.2,36.199999999999996 L38.2,39.800000000000004 Z" fill="#fff"/>
<text transform="translate(39.4,41.7) scale(0.72,1)" font-size="14" textLength="17.92" lengthAdjust="spacing">J2</text>
<path d="M19,70 L22,70 L22,69 L28,69 L35,67.4 L35,74.6 L28,73 L22,73 L22,72 L19,72 Z" fill="#000" stroke="none" stroke-width="1"/>
<path d="M36.6,62 L57.4,62 L60,64.6 L60,77.4 L57.4,80 L36.6,80 L34,77.4 L34,64.6 Z" fill="#000"/>
<path d="M37,64 L56,64 L57,65 L57,77 L56,78 L37,78 L36,77 L36,65 Z" fill="#fff"/>
<path d="M27.5,71 L37.2,69.2 L37.2,72.8 Z" fill="#fff"/>
<text transform="translate(39.4,74.8) scale(0.72,1)" font-size="14" textLength="17.92" lengthAdjust="spacing">J3</text>
<path d="M19,103 L22,103 L22,102 L28,102 L35,100.4 L35,107.6 L28,106 L22,106 L22,105 L19,105 Z" fill="#000" stroke="none" stroke-width="1"/>
<path d="M36.6,95 L57.4,95 L60,97.6 L60,111.4 L57.4,114 L36.6,114 L34,111.4 L34,97.6 Z" fill="#000"/>
<path d="M37,97 L57,97 L58,98 L58,110 L57,111 L37,111 L36,110 L36,98 Z" fill="#fff"/>
<path d="M27.5,104 L37.2,102.2 L37.2,105.8 Z" fill="#fff"/>
<text transform="translate(39.4,108) scale(0.72,1)" font-size="14" textLength="16.53" lengthAdjust="spacing">J1</text>
<path d="M20,137 L23,137 L23,136 L29,136 L35,134.4 L35,141.6 L29,140 L23,140 L23,139 L20,139 Z" fill="#000" stroke="none" stroke-width="1"/>
<path d="M36.6,129 L57.4,129 L60,131.6 L60,145.4 L57.4,148 L36.6,148 L34,145.4 L34,131.6 Z" fill="#000"/>
<path d="M37,131 L56,131 L57,132 L57,144 L56,145 L37,145 L36,144 L36,132 Z" fill="#fff"/>
<path d="M28.5,138 L37.2,136.20000000000002 L37.2,139.79999999999998 Z" fill="#fff"/>
<text transform="translate(38.4,142) scale(0.72,1)" font-size="14" textLength="19.58" lengthAdjust="spacing">J4</text>
<path d="M19,168.3 L22,168.3 L22,167.3 L28,167.3 L35,165.70000000000002 L35,172.9 L28,171.3 L22,171.3 L22,170.3 L19,170.3 Z" fill="#000" stroke="none" stroke-width="1"/>
<path d="M36.6,160 L57.4,160 L60,162.6 L60,176.4 L57.4,179 L36.6,179 L34,176.4 L34,162.6 Z" fill="#000"/>
<path d="M37,162 L56,162 L57,163 L57,175 L56,176 L37,176 L36,175 L36,163 Z" fill="#fff"/>
<path d="M27.5,169.3 L37.2,167.50000000000003 L37.2,171.1 Z" fill="#fff"/>
<text transform="translate(40.2,173.8) scale(0.72,1)" font-size="14" textLength="17.50" lengthAdjust="spacing">J7</text>
<rect x="97" y="62.7" width="56" height="14.3" rx="2.5" ry="2.5" fill="#fff"/>
<text transform="translate(99.4,73) scale(0.72,1)" font-size="14" textLength="64.44" lengthAdjust="spacing">BANK 0</text>
<rect x="185" y="62.7" width="56.2" height="14.3" rx="2.5" ry="2.5" fill="#fff"/>
<text transform="translate(187.4,73) scale(0.72,1)" font-size="14" textLength="64.58" lengthAdjust="spacing">BANK 1</text>
<path d="M82.5,124 L89,131.5 L165.8,131.5 L169.6,136.7 L173.4,131.5 L248,131.5 L252.5,124" fill="none" stroke="#000" stroke-width="1"/>
<path d="M147.6,139 L193.4,139 L196,141.6 L196,155.4 L193.4,158 L147.6,158 L145,155.4 L145,141.6 Z" fill="#000"/>
<path d="M149,141 L193,141 L194,142 L194,155 L193,156 L149,156 L148,155 L148,142 Z" fill="#fff"/>
<text transform="translate(148.4,153) scale(0.72,1)" font-size="14" textLength="61.53" lengthAdjust="spacing">CACHE</text>
<rect x="197.5" y="169" width="29.7" height="14.5" rx="3.5" ry="3.5" fill="#fff"/>
<text transform="translate(201.2,180.5) scale(0.72,1)" font-size="14" textLength="30.69" lengthAdjust="spacing">U14</text>
<rect x="197.5" y="193.7" width="29.7" height="14.6" rx="3.5" ry="3.5" fill="#fff"/>
<text transform="translate(201.8,205.2) scale(0.72,1)" font-size="14" textLength="31.25" lengthAdjust="spacing">U15</text>
<path d="M255.5,164.5 L263.5,169.5 L263.5,186 L269.5,189 L263.5,192.5 L263.5,208 L255.5,213" fill="none" stroke="#000" stroke-width="1"/>
<path d="M273.6,180 L301.4,180 L304,182.6 L304,195 L301.4,197.6 L273.6,197.6 L271,195 L271,182.6 Z" fill="#000"/>
<path d="M274,182 L301,182 L302,183 L302,194.1 L301,195.1 L274,195.1 L273,194.1 L273,183 Z" fill="#fff"/>
<text transform="translate(274.4,192.6) scale(0.72,1)" font-size="14" textLength="34.58" lengthAdjust="spacing">TAG</text>
<path d="M138.2,220 L138.2,239.2 L140.3,239.2 L144,220 Z" fill="#000" stroke="none" stroke-width="1"/>
<path d="M128.6,203 L157.4,203 L160,205.6 L160,219 L157.4,221.6 L128.6,221.6 L126,219 L126,205.6 Z" fill="#000"/>
<path d="M129,205 L157,205 L158,206 L158,218.6 L157,219.6 L129,219.6 L128,218.6 L128,206 Z" fill="#fff"/>
<text transform="translate(130.1,215.9) scale(0.72,1)" font-size="14" textLength="30.83" lengthAdjust="spacing">JP4</text>
<path d="M139.8,219 L139.8,226.5 L142,219 Z" fill="#fff"/>
<path d="M304.4,21 L304.4,38 L311,38 L307,21 Z" fill="#000" stroke="none" stroke-width="1"/>
<path d="M294.9,36.8 L323.4,36.8 L326,39.4 L326,52.4 L323.4,55 L294.9,55 L292.3,52.4 L292.3,39.4 Z" fill="#000"/>
<path d="M295.3,38.8 L323,38.8 L324,39.8 L324,52 L323,53 L295.3,53 L294.3,52 L294.3,39.8 Z" fill="#fff"/>
<text transform="translate(297.3,50.8) scale(0.72,1)" font-size="14" textLength="32.22" lengthAdjust="spacing">JP6</text>
<path d="M306.2,32.5 L306.2,40 L308.5,40 Z" fill="#fff"/>
<rect x="349" y="72.2" width="41" height="14.7" rx="2.5" ry="2.5" fill="#fff"/>
<text transform="translate(353.9,83.9) scale(0.72,1)" font-size="14" textLength="41.67" lengthAdjust="spacing">BIOS</text>
<circle cx="326.3" cy="131.5" r="2.4" fill="#fff"/>
<circle cx="331.2" cy="261.3" r="2.4" fill="#fff"/>
<circle cx="284.7" cy="493.5" r="2.4" fill="#fff"/>
<text transform="translate(637,48.8) scale(0.85,1)" font-size="11.6" textLength="55.18" lengthAdjust="spacing">MHO136</text>
<circle cx="65.9" cy="263.2" r="1.55" fill="#fff"/>
<circle cx="65.9" cy="269.1" r="1.55" fill="#fff"/>
<circle cx="65.9" cy="275.0" r="1.55" fill="#fff"/>
<circle cx="65.9" cy="280.9" r="1.55" fill="#fff"/>
<circle cx="65.9" cy="286.8" r="1.55" fill="#fff"/>
<circle cx="65.9" cy="292.7" r="1.55" fill="#fff"/>
<circle cx="65.9" cy="298.6" r="1.55" fill="#fff"/>
<circle cx="65.9" cy="304.5" r="1.55" fill="#fff"/>
<circle cx="65.9" cy="310.4" r="1.55" fill="#fff"/>
<circle cx="65.9" cy="316.3" r="1.55" fill="#fff"/>
<circle cx="65.9" cy="322.2" r="1.55" fill="#fff"/>
<circle cx="65.9" cy="328.1" r="1.55" fill="#fff"/>
<circle cx="65.9" cy="334.0" r="1.55" fill="#fff"/>
<circle cx="71.9" cy="263.2" r="1.55" fill="#fff"/>
<circle cx="71.9" cy="269.1" r="1.55" fill="#fff"/>
<circle cx="71.9" cy="275.0" r="1.55" fill="#fff"/>
<circle cx="71.9" cy="280.9" r="1.55" fill="#fff"/>
<circle cx="71.9" cy="286.8" r="1.55" fill="#fff"/>
<circle cx="71.9" cy="292.7" r="1.55" fill="#fff"/>
<circle cx="71.9" cy="298.6" r="1.55" fill="#fff"/>
<circle cx="71.9" cy="304.5" r="1.55" fill="#fff"/>
<circle cx="71.9" cy="310.4" r="1.55" fill="#fff"/>
<circle cx="71.9" cy="316.3" r="1.55" fill="#fff"/>
<circle cx="71.9" cy="322.2" r="1.55" fill="#fff"/>
<circle cx="71.9" cy="328.1" r="1.55" fill="#fff"/>
<circle cx="71.9" cy="334.0" r="1.55" fill="#fff"/>
<circle cx="77.8" cy="263.2" r="1.55" fill="#fff"/>
<circle cx="77.8" cy="269.1" r="1.55" fill="#fff"/>
<circle cx="77.8" cy="275.0" r="1.55" fill="#fff"/>
<circle cx="77.8" cy="280.9" r="1.55" fill="#fff"/>
<circle cx="77.8" cy="286.8" r="1.55" fill="#fff"/>
<circle cx="77.8" cy="292.7" r="1.55" fill="#fff"/>
<circle cx="77.8" cy="298.6" r="1.55" fill="#fff"/>
<circle cx="77.8" cy="304.5" r="1.55" fill="#fff"/>
<circle cx="77.8" cy="310.4" r="1.55" fill="#fff"/>
<circle cx="77.8" cy="316.3" r="1.55" fill="#fff"/>
<circle cx="77.8" cy="322.2" r="1.55" fill="#fff"/>
<circle cx="77.8" cy="328.1" r="1.55" fill="#fff"/>
<circle cx="77.8" cy="334.0" r="1.55" fill="#fff"/>
<circle cx="83.8" cy="263.2" r="1.55" fill="#fff"/>
<circle cx="83.8" cy="269.1" r="1.55" fill="#fff"/>
<circle cx="83.8" cy="275.0" r="1.55" fill="#fff"/>
<circle cx="83.8" cy="322.2" r="1.55" fill="#fff"/>
<circle cx="83.8" cy="328.1" r="1.55" fill="#fff"/>
<circle cx="83.8" cy="334.0" r="1.55" fill="#fff"/>
<circle cx="89.7" cy="263.2" r="1.55" fill="#fff"/>
<circle cx="89.7" cy="269.1" r="1.55" fill="#fff"/>
<circle cx="89.7" cy="275.0" r="1.55" fill="#fff"/>
<circle cx="89.7" cy="322.2" r="1.55" fill="#fff"/>
<circle cx="89.7" cy="328.1" r="1.55" fill="#fff"/>
<circle cx="89.7" cy="334.0" r="1.55" fill="#fff"/>
<circle cx="95.7" cy="263.2" r="1.55" fill="#fff"/>
<circle cx="95.7" cy="269.1" r="1.55" fill="#fff"/>
<circle cx="95.7" cy="275.0" r="1.55" fill="#fff"/>
<circle cx="95.7" cy="322.2" r="1.55" fill="#fff"/>
<circle cx="95.7" cy="328.1" r="1.55" fill="#fff"/>
<circle cx="95.7" cy="334.0" r="1.55" fill="#fff"/>
<circle cx="101.7" cy="263.2" r="1.55" fill="#fff"/>
<circle cx="101.7" cy="269.1" r="1.55" fill="#fff"/>
<circle cx="101.7" cy="275.0" r="1.55" fill="#fff"/>
<circle cx="101.7" cy="322.2" r="1.55" fill="#fff"/>
<circle cx="101.7" cy="328.1" r="1.55" fill="#fff"/>
<circle cx="101.7" cy="334.0" r="1.55" fill="#fff"/>
<circle cx="107.6" cy="263.2" r="1.55" fill="#fff"/>
<circle cx="107.6" cy="269.1" r="1.55" fill="#fff"/>
<circle cx="107.6" cy="275.0" r="1.55" fill="#fff"/>
<circle cx="107.6" cy="322.2" r="1.55" fill="#fff"/>
<circle cx="107.6" cy="328.1" r="1.55" fill="#fff"/>
<circle cx="107.6" cy="334.0" r="1.55" fill="#fff"/>
<circle cx="113.6" cy="263.2" r="1.55" fill="#fff"/>
<circle cx="113.6" cy="269.1" r="1.55" fill="#fff"/>
<circle cx="113.6" cy="275.0" r="1.55" fill="#fff"/>
<circle cx="113.6" cy="322.2" r="1.55" fill="#fff"/>
<circle cx="113.6" cy="328.1" r="1.55" fill="#fff"/>
<circle cx="113.6" cy="334.0" r="1.55" fill="#fff"/>
<circle cx="119.5" cy="263.2" r="1.55" fill="#fff"/>
<circle cx="119.5" cy="269.1" r="1.55" fill="#fff"/>
<circle cx="119.5" cy="275.0" r="1.55" fill="#fff"/>
<circle cx="119.5" cy="322.2" r="1.55" fill="#fff"/>
<circle cx="119.5" cy="328.1" r="1.55" fill="#fff"/>
<circle cx="119.5" cy="334.0" r="1.55" fill="#fff"/>
<circle cx="125.5" cy="263.2" r="1.55" fill="#fff"/>
<circle cx="125.5" cy="269.1" r="1.55" fill="#fff"/>
<circle cx="125.5" cy="275.0" r="1.55" fill="#fff"/>
<circle cx="125.5" cy="280.9" r="1.55" fill="#fff"/>
<circle cx="125.5" cy="286.8" r="1.55" fill="#fff"/>
<circle cx="125.5" cy="292.7" r="1.55" fill="#fff"/>
<circle cx="125.5" cy="298.6" r="1.55" fill="#fff"/>
<circle cx="125.5" cy="304.5" r="1.55" fill="#fff"/>
<circle cx="125.5" cy="310.4" r="1.55" fill="#fff"/>
<circle cx="125.5" cy="316.3" r="1.55" fill="#fff"/>
<circle cx="125.5" cy="322.2" r="1.55" fill="#fff"/>
<circle cx="125.5" cy="328.1" r="1.55" fill="#fff"/>
<circle cx="125.5" cy="334.0" r="1.55" fill="#fff"/>
<circle cx="131.5" cy="263.2" r="1.55" fill="#fff"/>
<circle cx="131.5" cy="269.1" r="1.55" fill="#fff"/>
<circle cx="131.5" cy="275.0" r="1.55" fill="#fff"/>
<circle cx="131.5" cy="280.9" r="1.55" fill="#fff"/>
<circle cx="131.5" cy="286.8" r="1.55" fill="#fff"/>
<circle cx="131.5" cy="292.7" r="1.55" fill="#fff"/>
<circle cx="131.5" cy="298.6" r="1.55" fill="#fff"/>
<circle cx="131.5" cy="304.5" r="1.55" fill="#fff"/>
<circle cx="131.5" cy="310.4" r="1.55" fill="#fff"/>
<circle cx="131.5" cy="316.3" r="1.55" fill="#fff"/>
<circle cx="131.5" cy="322.2" r="1.55" fill="#fff"/>
<circle cx="131.5" cy="328.1" r="1.55" fill="#fff"/>
<circle cx="131.5" cy="334.0" r="1.55" fill="#fff"/>
<circle cx="137.4" cy="263.2" r="1.55" fill="#fff"/>
<circle cx="137.4" cy="269.1" r="1.55" fill="#fff"/>
<circle cx="137.4" cy="275.0" r="1.55" fill="#fff"/>
<circle cx="137.4" cy="280.9" r="1.55" fill="#fff"/>
<circle cx="137.4" cy="286.8" r="1.55" fill="#fff"/>
<circle cx="137.4" cy="292.7" r="1.55" fill="#fff"/>
<circle cx="137.4" cy="298.6" r="1.55" fill="#fff"/>
<circle cx="137.4" cy="304.5" r="1.55" fill="#fff"/>
<circle cx="137.4" cy="310.4" r="1.55" fill="#fff"/>
<circle cx="137.4" cy="316.3" r="1.55" fill="#fff"/>
<circle cx="137.4" cy="322.2" r="1.55" fill="#fff"/>
<circle cx="137.4" cy="328.1" r="1.55" fill="#fff"/>
<circle cx="137.4" cy="334.0" r="1.55" fill="#fff"/>
<circle cx="88.4" cy="284.3" r="2.6" fill="#000"/>
<path d="M88.8,288.7 L114.6,288.7 L118.1,292.2 L118.1,304.5 L114.6,308 L88.8,308 L85.3,304.5 L85.3,292.2 Z" fill="#000"/>
<path d="M89.2,290.7 L114.2,290.7 L116.1,292.6 L116.1,303.1 L114.2,305 L89.2,305 L87.3,303.1 L87.3,292.6 Z" fill="#fff"/>
<text transform="translate(89.4,301.6) scale(0.72,1)" font-size="14" textLength="37.36" lengthAdjust="spacing">NPU</text>
<circle cx="64.5" cy="394.5" r="3.3" fill="#fff"/>
<text transform="translate(80.4,428) scale(0.72,1)" font-size="14" textLength="37.08" lengthAdjust="spacing">CPU</text>
<path d="M361.3,346 L365,365 L368,365 L368.2,346 Z" fill="#000" stroke="none" stroke-width="1"/>
<path d="M348.6,329 L377.4,329 L380,331.6 L380,344.9 L377.4,347.5 L348.6,347.5 L346,344.9 L346,331.6 Z" fill="#000"/>
<path d="M349,331.5 L376,331.5 L377,332.5 L377,344.5 L376,345.5 L349,345.5 L348,344.5 L348,332.5 Z" fill="#fff"/>
<text transform="translate(350.3,342) scale(0.72,1)" font-size="14" textLength="30.97" lengthAdjust="spacing">JP7</text>
<path d="M364,345 L366.4,357 L366.4,345 Z" fill="#fff"/>
<rect x="473" y="387" width="55" height="14" rx="0.5" ry="0.5" fill="#fff"/>
<text transform="translate(474.3,397.7) scale(0.72,1)" font-size="14" textLength="65.56" lengthAdjust="spacing">BANK 0</text>
<rect x="473.8" y="468.6" width="56.2" height="14.4" rx="1.5" ry="1.5" fill="#fff"/>
<text transform="translate(476.4,479.5) scale(0.72,1)" font-size="14" textLength="64.44" lengthAdjust="spacing">BANK 1</text>
<text transform="translate(701.4,372) scale(0.72,1)" font-size="14" textLength="34.31" lengthAdjust="spacing">KBD</text>
<path d="M765,410.5 L762,410.5 L762,409.5 L756,409.5 L747.5,408.1 L747.5,414.9 L756,413.5 L762,413.5 L762,412.5 L765,412.5 Z" fill="#000" stroke="none" stroke-width="1"/>
<path d="M713.8,402 L746.2,402 L748.8,404.6 L748.8,418.1 L746.2,420.7 L713.8,420.7 L711.2,418.1 L711.2,404.6 Z" fill="#000"/>
<path d="M714.2,404 L745.8,404 L746.8,405 L746.8,417.7 L745.8,418.7 L714.2,418.7 L713.2,417.7 L713.2,405 Z" fill="#fff"/>
<path d="M756.5,411.5 L745.3,409.90000000000003 L745.3,413.09999999999997 Z" fill="#fff"/>
<text transform="translate(714.4,414.5) scale(0.72,1)" font-size="14" textLength="40.83" lengthAdjust="spacing">JP13</text>
</g>
</svg>
</body></html>
